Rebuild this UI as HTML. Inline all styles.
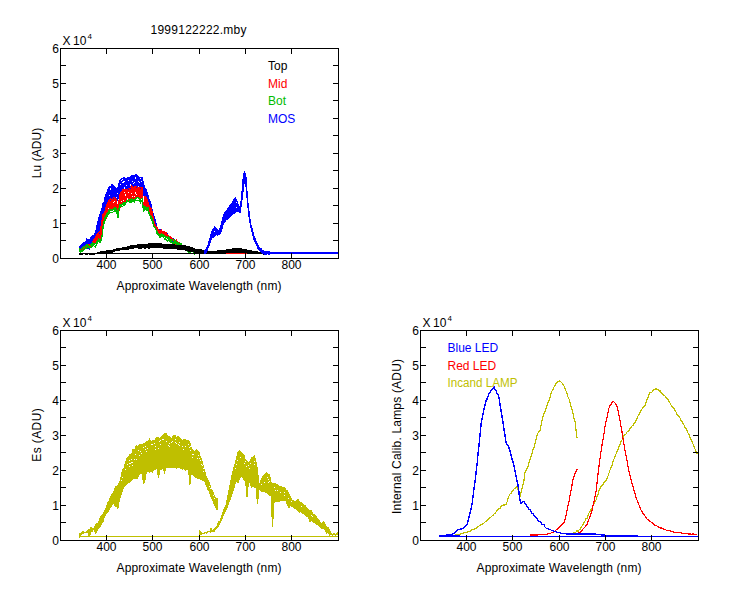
<!DOCTYPE html>
<html><head><meta charset="utf-8"><style>
html,body{margin:0;padding:0;background:#fff;width:750px;height:600px;overflow:hidden}
svg{display:block}
text{font-family:"Liberation Sans", sans-serif;font-size:12px;fill:#000}
</style></head><body>
<svg width="750" height="600" viewBox="0 0 750 600">
<rect width="750" height="600" fill="#fff"/>
<polyline points="79.0,246.3 80.5,245.8 82.0,244.4 83.5,245.0 85.0,243.3 86.5,239.9 88.0,239.8 89.5,240.0 91.0,240.3 92.5,235.8 94.0,235.8 95.5,232.5 97.0,225.4 98.5,218.2 100.0,213.8 101.5,210.3 103.0,203.1 104.5,201.9 106.0,195.3 107.5,190.5 109.0,187.4 110.5,186.3 112.0,186.7 113.5,185.8 115.0,188.8 116.5,188.9 118.0,188.0 119.5,180.9 121.0,178.7 122.5,178.9 124.0,177.2 125.5,179.1 127.0,182.3 128.5,177.2 130.0,178.0 131.5,176.0 133.0,176.4 134.5,176.1 136.0,174.5 137.5,176.7 139.0,177.4 140.5,177.1 142.0,177.5 143.5,182.9 145.0,188.0 146.5,190.1 148.0,195.5 149.5,201.7 151.0,204.5 152.5,212.0 154.0,216.3 155.5,221.3 157.0,226.6 158.5,229.7 160.0,230.6 161.5,230.9 163.0,232.7 164.5,232.0 166.0,236.0 167.5,233.8 169.0,238.4 170.5,238.1 172.0,239.1 173.5,241.1 175.0,242.7 176.5,242.3 178.0,244.1 179.5,245.5 181.0,243.8 182.5,247.3 184.0,247.7" fill="none" stroke="#0000FF" stroke-width="1.0" shape-rendering="crispEdges"/>
<polyline points="79.0,247.0 80.5,245.8 82.0,244.1 83.5,242.3 85.0,244.8 86.5,240.6 88.0,242.5 89.5,240.9 91.0,237.0 92.5,236.3 94.0,235.8 95.5,232.5 97.0,225.7 98.5,219.1 100.0,213.8 101.5,210.0 103.0,207.4 104.5,199.4 106.0,193.6 107.5,192.0 109.0,189.8 110.5,186.3 112.0,185.4 113.5,185.6 115.0,187.2 116.5,191.5 118.0,188.2 119.5,182.4 121.0,178.8 122.5,181.1 124.0,177.6 125.5,179.4 127.0,177.8 128.5,177.2 130.0,181.8 131.5,175.5 133.0,176.9 134.5,177.2 136.0,175.0 137.5,175.3 139.0,178.4 140.5,177.9 142.0,178.2 143.5,183.6 145.0,191.3 146.5,191.5 148.0,197.3 149.5,199.5 151.0,203.7 152.5,214.0 154.0,218.9 155.5,221.6 157.0,228.3 158.5,231.7 160.0,231.6 161.5,233.2 163.0,230.7 164.5,235.4 166.0,234.1 167.5,236.0 169.0,238.0 170.5,239.6 172.0,241.4 173.5,241.1 175.0,240.5 176.5,241.9 178.0,246.1 179.5,245.3 181.0,244.3 182.5,247.3 184.0,247.7" fill="none" stroke="#0000FF" stroke-width="1.0" shape-rendering="crispEdges"/>
<polyline points="79.0,246.3 80.5,247.4 82.0,245.4 83.5,243.2 85.0,243.0 86.5,239.9 88.0,239.8 89.5,241.1 91.0,237.0 92.5,235.8 94.0,238.2 95.5,232.9 97.0,228.0 98.5,218.9 100.0,215.5 101.5,210.7 103.0,203.7 104.5,201.8 106.0,194.4 107.5,192.9 109.0,188.8 110.5,192.4 112.0,184.3 113.5,189.2 115.0,189.2 116.5,191.0 118.0,186.9 119.5,182.4 121.0,182.5 122.5,181.0 124.0,179.6 125.5,179.9 127.0,181.9 128.5,179.3 130.0,178.0 131.5,176.1 133.0,175.0 134.5,175.9 136.0,175.7 137.5,179.5 139.0,178.2 140.5,177.1 142.0,177.6 143.5,186.4 145.0,190.2 146.5,191.0 148.0,197.1 149.5,201.0 151.0,206.4 152.5,213.7 154.0,218.0 155.5,221.1 157.0,228.5 158.5,229.7 160.0,232.3 161.5,230.9 163.0,231.3 164.5,232.8 166.0,234.1 167.5,236.8 169.0,239.2 170.5,237.4 172.0,241.1 173.5,240.2 175.0,240.5 176.5,243.0 178.0,244.6 179.5,246.1 181.0,243.8 182.5,245.5 184.0,248.0" fill="none" stroke="#0000FF" stroke-width="1.0" shape-rendering="crispEdges"/>
<polyline points="79.0,249.9 80.5,247.9 82.0,245.7 83.5,246.8 85.0,242.4 86.5,241.0 88.0,239.8 89.5,244.8 91.0,240.8 92.5,239.6 94.0,239.0 95.5,233.9 97.0,228.5 98.5,221.2 100.0,217.6 101.5,213.7 103.0,208.9 104.5,203.3 106.0,196.6 107.5,192.1 109.0,188.1 110.5,192.6 112.0,188.6 113.5,188.6 115.0,189.5 116.5,189.8 118.0,189.7 119.5,185.8 121.0,181.4 122.5,181.7 124.0,180.0 125.5,181.5 127.0,177.8 128.5,179.7 130.0,179.5 131.5,179.8 133.0,176.7 134.5,180.0 136.0,180.2 137.5,177.4 139.0,177.9 140.5,180.4 142.0,180.1 143.5,183.4 145.0,191.4 146.5,195.2 148.0,197.4 149.5,201.1 151.0,203.7 152.5,213.6 154.0,216.3 155.5,221.1 157.0,230.1 158.5,229.7 160.0,232.4 161.5,234.4 163.0,232.2 164.5,234.0 166.0,237.4 167.5,234.4 169.0,236.5 170.5,237.4 172.0,239.9 173.5,241.1 175.0,242.7 176.5,241.9 178.0,244.1 179.5,245.3 181.0,245.0 182.5,245.6 184.0,248.8" fill="none" stroke="#0000FF" stroke-width="1.0" shape-rendering="crispEdges"/>
<polyline points="79.0,248.6 80.5,247.1 82.0,246.0 83.5,244.8 85.0,243.6 86.5,243.1 88.0,245.6 89.5,243.5 91.0,239.7 92.5,235.8 94.0,239.0 95.5,231.4 97.0,226.3 98.5,224.3 100.0,220.4 101.5,214.4 103.0,203.9 104.5,202.4 106.0,196.3 107.5,195.2 109.0,194.2 110.5,191.1 112.0,187.2 113.5,187.3 115.0,190.9 116.5,192.3 118.0,188.5 119.5,185.3 121.0,181.0 122.5,185.0 124.0,183.1 125.5,184.1 127.0,180.6 128.5,181.9 130.0,181.6 131.5,178.4 133.0,178.4 134.5,177.4 136.0,175.7 137.5,180.3 139.0,179.5 140.5,181.2 142.0,182.8 143.5,182.8 145.0,189.9 146.5,192.5 148.0,199.1 149.5,201.3 151.0,207.7 152.5,213.9 154.0,216.3 155.5,221.3 157.0,229.5 158.5,231.6 160.0,229.5 161.5,234.4 163.0,232.9 164.5,235.5 166.0,234.6 167.5,234.3 169.0,236.5 170.5,239.9 172.0,239.6 173.5,241.1 175.0,240.5 176.5,243.0 178.0,244.1 179.5,245.4 181.0,245.8 182.5,245.3 184.0,249.7" fill="none" stroke="#0000FF" stroke-width="1.0" shape-rendering="crispEdges"/>
<polyline points="79.0,249.0 80.5,246.2 82.0,245.5 83.5,244.0 85.0,244.1 86.5,241.7 88.0,241.2 89.5,242.4 91.0,238.3 92.5,236.8 94.0,238.7 95.5,236.4 97.0,227.0 98.5,223.8 100.0,219.2 101.5,214.0 103.0,209.4 104.5,203.0 106.0,201.1 107.5,193.5 109.0,191.9 110.5,191.3 112.0,188.2 113.5,191.4 115.0,191.5 116.5,194.5 118.0,191.3 119.5,184.1 121.0,183.8 122.5,184.0 124.0,183.8 125.5,181.3 127.0,182.2 128.5,178.6 130.0,183.9 131.5,178.0 133.0,176.6 134.5,180.5 136.0,181.2 137.5,177.0 139.0,178.7 140.5,180.2 142.0,179.8 143.5,187.4 145.0,190.5 146.5,191.5 148.0,200.1 149.5,201.1 151.0,207.0 152.5,212.1 154.0,216.6 155.5,221.1 157.0,231.3 158.5,230.4 160.0,231.2 161.5,232.2 163.0,232.3 164.5,233.4 166.0,237.4 167.5,233.8 169.0,236.5 170.5,237.4 172.0,239.1 173.5,241.1 175.0,242.7 176.5,241.9 178.0,244.1 179.5,245.5 181.0,245.8 182.5,245.3 184.0,249.5" fill="none" stroke="#0000FF" stroke-width="1.0" shape-rendering="crispEdges"/>
<polyline points="79.0,246.8 80.5,250.3 82.0,244.9 83.5,244.7 85.0,241.9 86.5,241.4 88.0,245.7 89.5,245.0 91.0,240.0 92.5,238.1 94.0,235.9 95.5,234.7 97.0,230.5 98.5,224.7 100.0,221.4 101.5,214.9 103.0,208.6 104.5,204.6 106.0,201.5 107.5,199.1 109.0,191.9 110.5,191.3 112.0,190.4 113.5,190.1 115.0,191.3 116.5,194.1 118.0,190.4 119.5,188.1 121.0,184.8 122.5,185.3 124.0,182.7 125.5,182.5 127.0,181.3 128.5,182.1 130.0,182.6 131.5,181.2 133.0,180.8 134.5,179.0 136.0,180.1 137.5,178.2 139.0,180.4 140.5,181.8 142.0,178.9 143.5,187.7 145.0,192.9 146.5,193.2 148.0,198.8 149.5,202.3 151.0,204.9 152.5,213.8 154.0,218.2 155.5,223.8 157.0,226.6 158.5,231.5 160.0,231.2 161.5,232.1 163.0,231.4 164.5,234.5 166.0,234.1 167.5,236.0 169.0,238.1 170.5,239.0 172.0,240.8 173.5,238.8 175.0,241.0 176.5,244.0 178.0,245.8 179.5,246.6 181.0,243.8 182.5,247.2 184.0,249.7" fill="none" stroke="#0000FF" stroke-width="1.0" shape-rendering="crispEdges"/>
<polyline points="79.0,250.9 80.5,249.2 82.0,244.4 83.5,247.3 85.0,244.8 86.5,239.9 88.0,244.4 89.5,241.3 91.0,238.9 92.5,239.0 94.0,242.1 95.5,235.4 97.0,231.8 98.5,229.0 100.0,225.6 101.5,217.8 103.0,209.1 104.5,203.3 106.0,198.8 107.5,197.4 109.0,193.9 110.5,193.8 112.0,193.2 113.5,190.7 115.0,193.3 116.5,196.3 118.0,194.1 119.5,189.9 121.0,186.6 122.5,185.2 124.0,184.5 125.5,182.8 127.0,180.9 128.5,184.4 130.0,184.3 131.5,182.2 133.0,178.6 134.5,181.7 136.0,179.8 137.5,180.0 139.0,178.3 140.5,182.5 142.0,185.1 143.5,189.0 145.0,192.3 146.5,194.1 148.0,201.6 149.5,199.5 151.0,206.8 152.5,215.7 154.0,220.8 155.5,227.1 157.0,230.9 158.5,231.8 160.0,231.7 161.5,234.0 163.0,231.4 164.5,233.6 166.0,237.3 167.5,236.8 169.0,237.5 170.5,238.5 172.0,240.6 173.5,241.1 175.0,241.5 176.5,244.0 178.0,244.1 179.5,245.9 181.0,244.4 182.5,247.3 184.0,249.7" fill="none" stroke="#0000FF" stroke-width="1.0" shape-rendering="crispEdges"/>
<polyline points="79.0,246.7 80.5,247.4 82.0,248.2 83.5,244.8 85.0,242.8 86.5,245.9 88.0,245.0 89.5,245.4 91.0,240.9 92.5,242.6 94.0,239.8 95.5,238.6 97.0,230.5 98.5,225.4 100.0,224.3 101.5,217.8 103.0,211.6 104.5,206.8 106.0,199.3 107.5,197.7 109.0,193.5 110.5,196.2 112.0,191.2 113.5,192.2 115.0,196.4 116.5,199.8 118.0,197.4 119.5,189.0 121.0,187.2 122.5,189.5 124.0,184.5 125.5,183.7 127.0,184.9 128.5,185.0 130.0,183.7 131.5,179.6 133.0,180.0 134.5,184.4 136.0,180.4 137.5,182.1 139.0,183.6 140.5,185.1 142.0,183.8 143.5,190.0 145.0,192.4 146.5,194.1 148.0,199.0 149.5,206.1 151.0,207.4 152.5,213.8 154.0,219.3 155.5,224.0 157.0,230.3 158.5,229.7 160.0,229.5 161.5,232.0 163.0,234.2 164.5,235.5 166.0,235.7 167.5,236.7 169.0,239.2 170.5,238.3 172.0,239.6 173.5,241.1 175.0,242.5 176.5,244.0 178.0,244.2 179.5,247.3 181.0,245.8 182.5,247.3 184.0,249.7" fill="none" stroke="#0000FF" stroke-width="1.0" shape-rendering="crispEdges"/>
<polyline points="79.0,246.3 80.5,250.6 82.0,247.6 83.5,247.2 85.0,247.2 86.5,243.9 88.0,241.6 89.5,245.7 91.0,241.0 92.5,240.7 94.0,239.7 95.5,236.6 97.0,228.8 98.5,230.1 100.0,225.6 101.5,222.2 103.0,214.8 104.5,207.2 106.0,198.5 107.5,196.8 109.0,192.9 110.5,194.6 112.0,193.5 113.5,190.3 115.0,195.6 116.5,193.8 118.0,195.2 119.5,189.6 121.0,187.2 122.5,187.5 124.0,184.6 125.5,185.2 127.0,182.4 128.5,184.9 130.0,189.4 131.5,187.0 133.0,185.8 134.5,185.3 136.0,181.3 137.5,185.9 139.0,183.9 140.5,184.6 142.0,184.7 143.5,190.0 145.0,193.9 146.5,195.2 148.0,199.4 149.5,203.9 151.0,210.7 152.5,215.4 154.0,219.9 155.5,225.7 157.0,230.6 158.5,229.7 160.0,231.1 161.5,234.4 163.0,233.2 164.5,234.2 166.0,237.4 167.5,234.3 169.0,238.2 170.5,237.8 172.0,241.4 173.5,238.8 175.0,240.5 176.5,242.1 178.0,246.1 179.5,247.3 181.0,245.8 182.5,245.3 184.0,249.7" fill="none" stroke="#0000FF" stroke-width="1.0" shape-rendering="crispEdges"/>
<polyline points="79.0,249.6 80.5,248.6 82.0,249.3 83.5,245.2 85.0,242.6 86.5,244.3 88.0,242.4 89.5,244.4 91.0,243.5 92.5,242.4 94.0,244.1 95.5,237.5 97.0,231.0 98.5,227.6 100.0,224.7 101.5,219.1 103.0,212.9 104.5,206.8 106.0,199.1 107.5,200.6 109.0,195.9 110.5,197.1 112.0,194.5 113.5,195.9 115.0,195.9 116.5,199.6 118.0,196.2 119.5,191.5 121.0,189.5 122.5,185.9 124.0,186.2 125.5,186.7 127.0,186.6 128.5,183.3 130.0,189.8 131.5,184.4 133.0,182.2 134.5,181.8 136.0,182.9 137.5,184.0 139.0,183.6 140.5,185.7 142.0,184.9 143.5,191.7 145.0,194.1 146.5,195.9 148.0,203.8 149.5,208.1 151.0,206.4 152.5,215.1 154.0,219.3 155.5,226.5 157.0,227.5 158.5,230.8 160.0,231.6 161.5,231.3 163.0,231.1 164.5,233.3 166.0,234.1 167.5,233.8 169.0,237.4 170.5,239.1 172.0,240.1 173.5,238.8 175.0,240.9 176.5,244.0 178.0,246.1 179.5,246.3 181.0,243.8 182.5,247.3 184.0,247.8" fill="none" stroke="#0000FF" stroke-width="1.0" shape-rendering="crispEdges"/>
<polyline points="79.0,248.3 80.5,248.7 82.0,250.7 83.5,247.6 85.0,248.9 86.5,244.6 88.0,247.3 89.5,245.0 91.0,243.1 92.5,245.1 94.0,243.1 95.5,237.6 97.0,234.5 98.5,230.6 100.0,229.7 101.5,221.5 103.0,209.9 104.5,208.3 106.0,203.5 107.5,200.4 109.0,199.5 110.5,198.0 112.0,196.7 113.5,193.7 115.0,198.2 116.5,201.8 118.0,197.7 119.5,192.2 121.0,190.0 122.5,192.7 124.0,185.7 125.5,187.8 127.0,187.9 128.5,187.9 130.0,186.9 131.5,185.7 133.0,184.7 134.5,185.9 136.0,184.0 137.5,183.0 139.0,185.7 140.5,187.9 142.0,185.2 143.5,191.0 145.0,197.3 146.5,194.7 148.0,202.9 149.5,203.7 151.0,210.7 152.5,218.5 154.0,223.3 155.5,225.0 157.0,231.2 158.5,232.1 160.0,232.0 161.5,234.4 163.0,230.7 164.5,235.5 166.0,236.2 167.5,236.8 169.0,238.6 170.5,237.8 172.0,241.1 173.5,241.1 175.0,241.9 176.5,244.0 178.0,244.4 179.5,245.3 181.0,245.8 182.5,247.3 184.0,249.2" fill="none" stroke="#0000FF" stroke-width="1.0" shape-rendering="crispEdges"/>
<polyline points="79.0,250.9 80.5,252.0 82.0,248.3 83.5,246.4 85.0,246.9 86.5,247.8 88.0,243.6 89.5,248.6 91.0,242.8 92.5,241.0 94.0,244.2 95.5,238.9 97.0,233.1 98.5,230.4 100.0,230.4 101.5,225.6 103.0,213.1 104.5,210.3 106.0,205.6 107.5,199.9 109.0,198.7 110.5,198.4 112.0,195.2 113.5,195.7 115.0,197.6 116.5,199.0 118.0,196.0 119.5,191.9 121.0,192.7 122.5,190.7 124.0,189.8 125.5,191.0 127.0,188.9 128.5,190.3 130.0,187.1 131.5,187.4 133.0,185.5 134.5,189.6 136.0,188.2 137.5,182.4 139.0,184.8 140.5,188.3 142.0,189.2 143.5,193.6 145.0,196.7 146.5,198.1 148.0,204.4 149.5,205.9 151.0,210.7 152.5,212.7 154.0,222.7 155.5,223.9 157.0,231.3 158.5,231.6 160.0,230.3 161.5,234.0 163.0,231.5 164.5,232.8 166.0,234.1 167.5,235.9 169.0,239.2 170.5,239.9 172.0,240.4 173.5,241.1 175.0,242.0 176.5,243.1 178.0,246.1 179.5,247.3 181.0,244.5 182.5,246.2 184.0,248.7" fill="none" stroke="#0000FF" stroke-width="1.0" shape-rendering="crispEdges"/>
<polyline points="79.0,251.2 80.5,249.2 82.0,250.7 83.5,247.3 85.0,248.5 86.5,244.9 88.0,247.2 89.5,247.8 91.0,243.7 92.5,245.1 94.0,243.4 95.5,241.4 97.0,238.0 98.5,230.9 100.0,229.3 101.5,225.3 103.0,214.8 104.5,210.5 106.0,204.6 107.5,198.7 109.0,198.7 110.5,195.4 112.0,197.8 113.5,196.1 115.0,197.0 116.5,199.3 118.0,198.4 119.5,191.0 121.0,188.5 122.5,189.4 124.0,185.4 125.5,187.9 127.0,190.7 128.5,186.3 130.0,190.6 131.5,184.4 133.0,187.5 134.5,186.8 136.0,185.9 137.5,187.8 139.0,189.6 140.5,188.2 142.0,188.8 143.5,191.3 145.0,198.5 146.5,197.5 148.0,205.3 149.5,206.5 151.0,210.7 152.5,213.6 154.0,221.4 155.5,227.3 157.0,229.7 158.5,230.7 160.0,231.6 161.5,231.1 163.0,233.6 164.5,235.5 166.0,237.4 167.5,234.1 169.0,236.9 170.5,238.4 172.0,241.4 173.5,238.9 175.0,240.8 176.5,244.0 178.0,246.1 179.5,246.0 181.0,243.8 182.5,245.3 184.0,247.8" fill="none" stroke="#0000FF" stroke-width="1.0" shape-rendering="crispEdges"/>
<polyline points="79.0,247.4 80.5,252.0 82.0,248.7 83.5,249.3 85.0,249.0 86.5,247.8 88.0,245.0 89.5,248.6 91.0,246.0 92.5,242.7 94.0,241.5 95.5,240.1 97.0,234.2 98.5,234.7 100.0,226.8 101.5,223.6 103.0,215.1 104.5,210.8 106.0,206.3 107.5,203.3 109.0,199.7 110.5,201.8 112.0,194.2 113.5,198.3 115.0,197.8 116.5,200.8 118.0,199.1 119.5,192.9 121.0,191.4 122.5,193.6 124.0,190.6 125.5,189.3 127.0,190.7 128.5,190.3 130.0,187.6 131.5,188.3 133.0,189.3 134.5,189.6 136.0,187.2 137.5,187.3 139.0,187.3 140.5,188.3 142.0,188.4 143.5,195.1 145.0,197.5 146.5,197.8 148.0,202.2 149.5,207.0 151.0,208.2 152.5,217.3 154.0,223.3 155.5,227.1 157.0,231.3 158.5,232.9 160.0,232.4 161.5,233.5 163.0,233.0 164.5,235.5 166.0,234.8 167.5,236.8 169.0,238.7 170.5,237.9 172.0,240.0 173.5,239.3 175.0,242.4 176.5,242.2 178.0,246.1 179.5,245.3 181.0,243.8 182.5,245.4 184.0,247.7" fill="none" stroke="#0000FF" stroke-width="1.0" shape-rendering="crispEdges"/>
<polyline points="79.0,251.7 80.5,252.0 82.0,250.7 83.5,246.5 85.0,247.2 86.5,247.8 88.0,248.1 89.5,248.1 91.0,246.0 92.5,245.1 94.0,244.2 95.5,241.1 97.0,238.4 98.5,234.7 100.0,231.3 101.5,224.8 103.0,216.5 104.5,210.3 106.0,206.7 107.5,203.9 109.0,201.5 110.5,199.8 112.0,198.8 113.5,198.9 115.0,200.4 116.5,201.8 118.0,198.6 119.5,194.0 121.0,190.6 122.5,191.4 124.0,191.4 125.5,191.4 127.0,188.4 128.5,189.1 130.0,191.1 131.5,189.1 133.0,187.7 134.5,188.6 136.0,184.4 137.5,186.4 139.0,189.6 140.5,185.5 142.0,189.7 143.5,195.0 145.0,198.2 146.5,197.7 148.0,204.9 149.5,207.6 151.0,210.1 152.5,214.6 154.0,222.5 155.5,225.3 157.0,229.8 158.5,232.9 160.0,232.9 161.5,234.4 163.0,232.8 164.5,235.5 166.0,237.4 167.5,236.8 169.0,239.2 170.5,239.1 172.0,240.6 173.5,241.1 175.0,240.5 176.5,243.9 178.0,244.6 179.5,246.1 181.0,243.8 182.5,245.3 184.0,249.2" fill="none" stroke="#0000FF" stroke-width="1.0" shape-rendering="crispEdges"/>
<polyline points="79.0,251.3 80.5,250.4 82.0,247.9 83.5,247.1 85.0,245.8 86.5,248.1 88.0,244.8 89.5,246.9 91.0,246.3 92.5,245.3 94.0,241.2 95.5,237.6 97.0,234.2 98.5,232.1 100.0,231.8 101.5,223.7 103.0,214.3 104.5,213.2 106.0,207.4 107.5,203.0 109.0,199.8 110.5,199.5 112.0,199.6 113.5,197.4 115.0,199.8 116.5,200.1 118.0,210.0 119.5,194.7 121.0,193.0 122.5,189.9 124.0,189.8 125.5,189.6 127.0,189.1 128.5,191.4 130.0,188.0 131.5,186.9 133.0,187.6 134.5,188.7 136.0,188.8 137.5,187.5 139.0,187.7 140.5,187.2 142.0,188.4 143.5,208.0 145.0,196.0 146.5,199.5 148.0,203.0 149.5,206.1 151.0,210.2 152.5,212.5 154.0,221.6 155.5,226.0 157.0,228.8 158.5,230.6 160.0,231.5 161.5,230.1 163.0,232.0 164.5,232.0 166.0,232.2 167.5,234.7 169.0,236.7 170.5,236.8 172.0,238.6 173.5,239.2 175.0,242.8 176.5,241.3 178.0,244.5 179.5,244.7 181.0,244.0 182.5,245.7 184.0,248.1 185.5,248.4 187.0,248.4 188.5,249.3 190.0,248.8 191.5,250.3 193.0,251.0 194.5,252.8 196.0,252.3 197.5,253.2" fill="none" stroke="#FF0000" stroke-width="1.0" shape-rendering="crispEdges"/>
<polyline points="79.0,250.0 80.5,250.9 82.0,249.2 83.5,247.1 85.0,247.1 86.5,247.4 88.0,244.8 89.5,245.0 91.0,246.2 92.5,242.7 94.0,239.4 95.5,237.6 97.0,235.8 98.5,234.5 100.0,231.1 101.5,228.4 103.0,213.9 104.5,212.9 106.0,210.1 107.5,204.6 109.0,201.1 110.5,198.8 112.0,200.0 113.5,197.3 115.0,198.3 116.5,204.8 118.0,210.2 119.5,198.4 121.0,191.8 122.5,192.3 124.0,193.1 125.5,192.9 127.0,189.6 128.5,188.9 130.0,188.2 131.5,186.1 133.0,187.6 134.5,187.7 136.0,185.9 137.5,187.9 139.0,188.5 140.5,190.9 142.0,189.6 143.5,208.2 145.0,197.2 146.5,197.4 148.0,202.3 149.5,208.2 151.0,207.9 152.5,213.0 154.0,221.3 155.5,225.9 157.0,229.9 158.5,229.6 160.0,231.5 161.5,230.1 163.0,232.0 164.5,231.4 166.0,234.8 167.5,238.4 169.0,237.9 170.5,236.8 172.0,240.1 173.5,239.3 175.0,244.4 176.5,241.5 178.0,244.3 179.5,244.4 181.0,244.0 182.5,245.7 184.0,246.9 185.5,248.2 187.0,248.3 188.5,248.4 190.0,248.7 191.5,250.9 193.0,251.7 194.5,252.3 196.0,252.1 197.5,253.2" fill="none" stroke="#FF0000" stroke-width="1.0" shape-rendering="crispEdges"/>
<polyline points="79.0,251.3 80.5,251.0 82.0,249.4 83.5,247.2 85.0,247.6 86.5,246.1 88.0,246.9 89.5,244.8 91.0,245.1 92.5,245.3 94.0,242.3 95.5,237.2 97.0,235.4 98.5,232.6 100.0,232.8 101.5,224.0 103.0,214.8 104.5,212.8 106.0,209.4 107.5,205.6 109.0,201.7 110.5,203.6 112.0,198.9 113.5,199.3 115.0,198.3 116.5,200.1 118.0,210.5 119.5,195.6 121.0,194.6 122.5,191.2 124.0,190.5 125.5,191.1 127.0,189.6 128.5,190.2 130.0,190.1 131.5,188.9 133.0,188.8 134.5,187.1 136.0,188.2 137.5,188.7 139.0,190.7 140.5,192.5 142.0,189.6 143.5,208.5 145.0,196.0 146.5,197.7 148.0,201.9 149.5,206.1 151.0,208.8 152.5,213.2 154.0,223.3 155.5,225.3 157.0,227.7 158.5,229.6 160.0,233.5 161.5,231.6 163.0,235.2 164.5,233.4 166.0,235.0 167.5,235.2 169.0,238.4 170.5,239.2 172.0,238.6 173.5,241.3 175.0,244.7 176.5,241.7 178.0,245.0 179.5,244.7 181.0,244.0 182.5,246.8 184.0,246.9 185.5,248.2 187.0,248.3 188.5,248.4 190.0,249.4 191.5,251.2 193.0,251.0 194.5,252.8 196.0,252.3 197.5,253.3" fill="none" stroke="#FF0000" stroke-width="1.0" shape-rendering="crispEdges"/>
<polyline points="79.0,250.1 80.5,250.1 82.0,249.2 83.5,248.2 85.0,245.8 86.5,247.8 88.0,246.9 89.5,244.8 91.0,247.1 92.5,244.0 94.0,240.2 95.5,240.4 97.0,234.0 98.5,233.6 100.0,235.2 101.5,226.5 103.0,215.8 104.5,212.9 106.0,209.1 107.5,206.8 109.0,201.0 110.5,202.4 112.0,198.9 113.5,200.5 115.0,200.5 116.5,200.1 118.0,210.7 119.5,196.1 121.0,194.1 122.5,194.1 124.0,191.1 125.5,190.9 127.0,193.0 128.5,191.7 130.0,191.9 131.5,189.2 133.0,189.1 134.5,189.0 136.0,190.2 137.5,190.8 139.0,190.0 140.5,189.8 142.0,188.9 143.5,208.7 145.0,199.4 146.5,199.3 148.0,202.0 149.5,207.1 151.0,210.7 152.5,215.0 154.0,222.5 155.5,225.1 157.0,228.2 158.5,229.6 160.0,230.5 161.5,232.2 163.0,232.5 164.5,233.1 166.0,234.9 167.5,236.5 169.0,237.6 170.5,239.2 172.0,240.2 173.5,239.4 175.0,244.4 176.5,241.8 178.0,243.4 179.5,243.8 181.0,244.4 182.5,245.7 184.0,247.2 185.5,248.3 187.0,248.3 188.5,248.1 190.0,248.8 191.5,250.7 193.0,251.6 194.5,252.3 196.0,252.3 197.5,253.2" fill="none" stroke="#FF0000" stroke-width="1.0" shape-rendering="crispEdges"/>
<polyline points="79.0,250.3 80.5,251.0 82.0,247.9 83.5,247.1 85.0,247.6 86.5,246.3 88.0,245.1 89.5,245.9 91.0,247.3 92.5,242.7 94.0,239.5 95.5,237.5 97.0,234.5 98.5,232.7 100.0,232.6 101.5,228.0 103.0,215.8 104.5,213.4 106.0,210.9 107.5,204.4 109.0,203.0 110.5,204.0 112.0,201.6 113.5,199.5 115.0,201.2 116.5,201.6 118.0,210.9 119.5,199.5 121.0,194.4 122.5,192.6 124.0,194.9 125.5,192.4 127.0,192.0 128.5,191.0 130.0,189.5 131.5,188.8 133.0,193.9 134.5,189.3 136.0,188.6 137.5,189.5 139.0,190.5 140.5,191.2 142.0,189.9 143.5,208.9 145.0,197.6 146.5,201.7 148.0,204.3 149.5,208.9 151.0,208.3 152.5,214.3 154.0,222.8 155.5,225.8 157.0,227.1 158.5,232.0 160.0,231.3 161.5,230.8 163.0,233.0 164.5,232.5 166.0,234.0 167.5,234.7 169.0,236.7 170.5,238.0 172.0,239.6 173.5,239.5 175.0,242.8 176.5,240.6 178.0,244.0 179.5,244.7 181.0,244.0 182.5,247.1 184.0,248.1 185.5,248.2 187.0,249.3 188.5,248.1 190.0,248.7 191.5,250.3 193.0,251.0 194.5,252.3 196.0,252.1 197.5,253.3" fill="none" stroke="#FF0000" stroke-width="1.0" shape-rendering="crispEdges"/>
<polyline points="79.0,250.0 80.5,250.9 82.0,247.9 83.5,247.1 85.0,246.0 86.5,246.1 88.0,244.8 89.5,244.8 91.0,246.0 92.5,244.4 94.0,241.5 95.5,237.8 97.0,235.3 98.5,233.1 100.0,234.9 101.5,225.8 103.0,219.3 104.5,213.2 106.0,209.9 107.5,206.5 109.0,204.8 110.5,202.9 112.0,203.3 113.5,201.2 115.0,203.5 116.5,205.0 118.0,211.2 119.5,201.0 121.0,196.6 122.5,193.8 124.0,193.0 125.5,193.5 127.0,193.5 128.5,191.3 130.0,192.2 131.5,190.7 133.0,192.2 134.5,187.7 136.0,189.9 137.5,191.8 139.0,190.4 140.5,191.2 142.0,187.2 143.5,209.2 145.0,197.1 146.5,201.4 148.0,201.9 149.5,209.5 151.0,210.3 152.5,215.9 154.0,222.0 155.5,225.5 157.0,231.0 158.5,230.0 160.0,231.1 161.5,231.2 163.0,232.2 164.5,234.6 166.0,235.9 167.5,235.1 169.0,236.7 170.5,239.2 172.0,240.8 173.5,241.1 175.0,244.7 176.5,240.6 178.0,243.9 179.5,243.1 181.0,244.0 182.5,247.1 184.0,246.9 185.5,249.3 187.0,248.9 188.5,248.1 190.0,249.8 191.5,251.2 193.0,251.7 194.5,252.3 196.0,252.3 197.5,253.3" fill="none" stroke="#FF0000" stroke-width="1.0" shape-rendering="crispEdges"/>
<polyline points="79.0,250.0 80.5,249.6 82.0,249.4 83.5,248.0 85.0,245.8 86.5,246.5 88.0,244.8 89.5,246.1 91.0,246.2 92.5,245.3 94.0,241.8 95.5,237.4 97.0,237.2 98.5,235.9 100.0,235.4 101.5,230.6 103.0,217.6 104.5,213.1 106.0,212.8 107.5,205.3 109.0,201.3 110.5,204.5 112.0,201.6 113.5,201.4 115.0,200.7 116.5,202.2 118.0,211.4 119.5,199.4 121.0,197.7 122.5,191.5 124.0,196.0 125.5,193.1 127.0,191.8 128.5,194.6 130.0,192.0 131.5,189.0 133.0,195.0 134.5,190.2 136.0,191.1 137.5,191.9 139.0,193.9 140.5,191.1 142.0,192.2 143.5,209.4 145.0,200.0 146.5,199.8 148.0,204.2 149.5,211.4 151.0,211.5 152.5,215.4 154.0,226.4 155.5,226.9 157.0,227.6 158.5,232.2 160.0,230.7 161.5,233.3 163.0,235.4 164.5,232.5 166.0,233.1 167.5,236.4 169.0,237.9 170.5,236.8 172.0,240.3 173.5,239.2 175.0,243.1 176.5,240.8 178.0,243.8 179.5,244.2 181.0,244.0 182.5,247.1 184.0,247.2 185.5,248.2 187.0,248.3 188.5,248.1 190.0,249.7 191.5,250.3 193.0,251.5 194.5,252.8 196.0,252.3 197.5,253.3" fill="none" stroke="#FF0000" stroke-width="1.0" shape-rendering="crispEdges"/>
<polyline points="79.0,250.3 80.5,249.6 82.0,249.4 83.5,248.2 85.0,247.6 86.5,247.0 88.0,246.9 89.5,246.9 91.0,247.1 92.5,244.5 94.0,241.6 95.5,240.0 97.0,237.3 98.5,236.5 100.0,234.7 101.5,232.4 103.0,218.9 104.5,216.2 106.0,212.0 107.5,207.1 109.0,207.4 110.5,203.4 112.0,201.6 113.5,201.6 115.0,202.7 116.5,207.3 118.0,211.6 119.5,201.9 121.0,196.7 122.5,195.7 124.0,196.6 125.5,197.7 127.0,193.1 128.5,195.3 130.0,193.2 131.5,190.4 133.0,193.3 134.5,191.7 136.0,188.4 137.5,193.1 139.0,193.4 140.5,191.8 142.0,189.7 143.5,209.6 145.0,199.4 146.5,202.6 148.0,206.9 149.5,208.7 151.0,212.6 152.5,215.3 154.0,223.6 155.5,226.4 157.0,228.8 158.5,232.9 160.0,232.6 161.5,231.8 163.0,233.6 164.5,233.9 166.0,232.9 167.5,235.6 169.0,237.9 170.5,237.1 172.0,239.4 173.5,239.3 175.0,244.7 176.5,242.4 178.0,244.8 179.5,243.8 181.0,245.5 182.5,246.8 184.0,247.3 185.5,249.1 187.0,249.2 188.5,249.3 190.0,249.3 191.5,251.2 193.0,251.0 194.5,252.8 196.0,252.1 197.5,253.3" fill="none" stroke="#FF0000" stroke-width="1.0" shape-rendering="crispEdges"/>
<polyline points="79.0,250.2 80.5,250.2 82.0,249.4 83.5,248.7 85.0,245.8 86.5,246.6 88.0,244.8 89.5,246.1 91.0,246.1 92.5,243.5 94.0,240.4 95.5,239.4 97.0,236.4 98.5,236.3 100.0,237.9 101.5,228.5 103.0,219.5 104.5,214.9 106.0,213.4 107.5,206.9 109.0,205.3 110.5,203.1 112.0,204.8 113.5,203.3 115.0,203.5 116.5,205.5 118.0,211.9 119.5,199.4 121.0,199.7 122.5,196.5 124.0,196.3 125.5,197.4 127.0,196.3 128.5,193.8 130.0,192.5 131.5,194.5 133.0,195.9 134.5,191.8 136.0,190.6 137.5,192.2 139.0,192.8 140.5,191.0 142.0,192.1 143.5,209.9 145.0,198.1 146.5,202.9 148.0,204.6 149.5,209.7 151.0,212.8 152.5,217.1 154.0,223.6 155.5,226.7 157.0,227.9 158.5,233.9 160.0,233.4 161.5,230.8 163.0,234.2 164.5,234.7 166.0,234.9 167.5,238.4 169.0,239.7 170.5,237.2 172.0,239.5 173.5,239.2 175.0,244.1 176.5,241.7 178.0,245.1 179.5,244.0 181.0,244.0 182.5,245.7 184.0,247.6 185.5,248.2 187.0,248.3 188.5,248.2 190.0,249.7 191.5,250.5 193.0,251.0 194.5,252.8 196.0,252.1 197.5,253.2" fill="none" stroke="#FF0000" stroke-width="1.0" shape-rendering="crispEdges"/>
<polyline points="79.0,250.0 80.5,249.6 82.0,249.4 83.5,247.1 85.0,246.6 86.5,248.0 88.0,245.4 89.5,246.3 91.0,245.1 92.5,245.3 94.0,242.9 95.5,240.5 97.0,235.5 98.5,234.7 100.0,237.7 101.5,234.1 103.0,220.7 104.5,217.6 106.0,212.6 107.5,208.5 109.0,206.1 110.5,205.6 112.0,202.6 113.5,205.1 115.0,206.1 116.5,204.1 118.0,212.1 119.5,202.7 121.0,198.9 122.5,193.8 124.0,198.4 125.5,197.1 127.0,194.8 128.5,198.7 130.0,194.4 131.5,192.2 133.0,194.9 134.5,192.2 136.0,191.9 137.5,194.2 139.0,193.4 140.5,193.2 142.0,194.8 143.5,210.1 145.0,201.3 146.5,202.9 148.0,206.5 149.5,212.0 151.0,212.4 152.5,218.8 154.0,223.0 155.5,226.5 157.0,227.4 158.5,231.4 160.0,233.5 161.5,234.3 163.0,233.6 164.5,234.0 166.0,234.1 167.5,235.7 169.0,236.7 170.5,238.1 172.0,238.6 173.5,240.4 175.0,243.8 176.5,240.7 178.0,243.4 179.5,243.1 181.0,245.5 182.5,245.7 184.0,248.1 185.5,249.3 187.0,248.3 188.5,248.1 190.0,249.8 191.5,251.2 193.0,251.0 194.5,252.3 196.0,252.3 197.5,253.3" fill="none" stroke="#FF0000" stroke-width="1.0" shape-rendering="crispEdges"/>
<polyline points="79.0,251.3 80.5,249.6 82.0,249.4 83.5,247.1 85.0,247.6 86.5,246.2 88.0,244.8 89.5,245.9 91.0,246.2 92.5,245.3 94.0,241.2 95.5,240.5 97.0,238.9 98.5,238.6 100.0,236.9 101.5,234.0 103.0,221.7 104.5,216.1 106.0,214.1 107.5,209.5 109.0,205.5 110.5,207.3 112.0,203.5 113.5,206.1 115.0,206.2 116.5,206.1 118.0,212.4 119.5,202.7 121.0,201.2 122.5,198.7 124.0,198.5 125.5,198.9 127.0,195.4 128.5,197.0 130.0,192.9 131.5,194.9 133.0,195.7 134.5,193.7 136.0,195.1 137.5,195.3 139.0,191.1 140.5,194.5 142.0,191.4 143.5,210.4 145.0,204.0 146.5,202.1 148.0,206.4 149.5,210.2 151.0,213.3 152.5,217.6 154.0,226.2 155.5,225.6 157.0,231.0 158.5,230.9 160.0,233.4 161.5,234.2 163.0,235.6 164.5,233.0 166.0,233.8 167.5,236.2 169.0,238.3 170.5,239.2 172.0,238.6 173.5,240.9 175.0,244.6 176.5,242.3 178.0,245.0 179.5,244.7 181.0,245.4 182.5,247.1 184.0,248.1 185.5,249.3 187.0,248.3 188.5,249.3 190.0,249.0 191.5,250.4 193.0,251.0 194.5,252.3 196.0,252.1 197.5,253.2" fill="none" stroke="#FF0000" stroke-width="1.0" shape-rendering="crispEdges"/>
<polyline points="79.0,251.3 80.5,249.6 82.0,249.4 83.5,248.4 85.0,246.4 86.5,246.3 88.0,245.0 89.5,244.8 91.0,245.8 92.5,244.2 94.0,241.6 95.5,238.9 97.0,238.2 98.5,235.8 100.0,237.7 101.5,235.9 103.0,222.5 104.5,216.7 106.0,212.5 107.5,208.3 109.0,205.2 110.5,207.3 112.0,205.0 113.5,205.4 115.0,204.8 116.5,206.9 118.0,212.6 119.5,202.9 121.0,200.9 122.5,197.5 124.0,200.0 125.5,197.1 127.0,195.4 128.5,195.6 130.0,193.9 131.5,195.3 133.0,199.6 134.5,193.7 136.0,195.6 137.5,195.4 139.0,194.0 140.5,194.7 142.0,193.6 143.5,210.6 145.0,203.9 146.5,200.7 148.0,207.2 149.5,211.4 151.0,212.5 152.5,217.4 154.0,226.0 155.5,227.2 157.0,230.0 158.5,233.2 160.0,230.6 161.5,234.6 163.0,236.7 164.5,235.7 166.0,236.3 167.5,235.1 169.0,238.3 170.5,237.1 172.0,239.1 173.5,241.3 175.0,242.9 176.5,241.4 178.0,243.4 179.5,243.8 181.0,244.9 182.5,245.7 184.0,246.9 185.5,249.3 187.0,248.3 188.5,248.1 190.0,248.7 191.5,251.2 193.0,251.7 194.5,252.8 196.0,252.1 197.5,253.2" fill="none" stroke="#FF0000" stroke-width="1.0" shape-rendering="crispEdges"/>
<polyline points="79.0,251.3 80.5,249.6 82.0,249.4 83.5,248.7 85.0,246.9 86.5,248.1 88.0,246.9 89.5,247.0 91.0,245.2 92.5,245.3 94.0,241.5 95.5,240.0 97.0,239.0 98.5,237.2 100.0,236.8 101.5,232.3 103.0,221.1 104.5,219.5 106.0,217.8 107.5,211.6 109.0,209.6 110.5,206.3 112.0,206.5 113.5,206.4 115.0,204.8 116.5,206.0 118.0,212.8 119.5,204.1 121.0,200.8 122.5,199.8 124.0,199.3 125.5,200.5 127.0,197.6 128.5,197.7 130.0,196.6 131.5,195.2 133.0,196.1 134.5,195.3 136.0,196.0 137.5,196.6 139.0,197.8 140.5,193.6 142.0,194.0 143.5,210.8 145.0,202.1 146.5,203.1 148.0,206.4 149.5,212.4 151.0,214.0 152.5,216.1 154.0,226.8 155.5,228.3 157.0,228.9 158.5,233.6 160.0,232.4 161.5,234.5 163.0,234.8 164.5,233.6 166.0,234.7 167.5,236.1 169.0,238.9 170.5,238.5 172.0,240.0 173.5,239.7 175.0,242.8 176.5,241.8 178.0,243.4 179.5,244.3 181.0,245.5 182.5,246.8 184.0,247.0 185.5,248.5 187.0,248.6 188.5,248.1 190.0,248.7 191.5,250.3 193.0,251.7 194.5,252.4 196.0,252.3 197.5,253.2" fill="none" stroke="#FF0000" stroke-width="1.0" shape-rendering="crispEdges"/>
<polyline points="79.0,250.8 80.5,250.2 82.0,249.4 83.5,248.7 85.0,247.2 86.5,246.5 88.0,245.1 89.5,247.0 91.0,246.3 92.5,244.0 94.0,243.4 95.5,242.7 97.0,239.9 98.5,237.4 100.0,241.3 101.5,235.7 103.0,223.7 104.5,217.9 106.0,214.0 107.5,209.7 109.0,209.2 110.5,208.1 112.0,207.0 113.5,205.2 115.0,205.0 116.5,207.4 118.0,213.1 119.5,206.5 121.0,204.6 122.5,203.8 124.0,201.6 125.5,199.1 127.0,197.2 128.5,194.4 130.0,196.4 131.5,195.9 133.0,199.0 134.5,197.3 136.0,196.5 137.5,196.7 139.0,197.7 140.5,198.3 142.0,193.7 143.5,211.1 145.0,200.7 146.5,206.3 148.0,209.2 149.5,212.7 151.0,212.6 152.5,218.2 154.0,225.1 155.5,227.4 157.0,229.6 158.5,233.3 160.0,233.1 161.5,234.4 163.0,235.6 164.5,234.5 166.0,235.2 167.5,236.7 169.0,239.7 170.5,238.0 172.0,240.4 173.5,240.0 175.0,242.8 176.5,242.4 178.0,243.4 179.5,244.7 181.0,245.4 182.5,245.7 184.0,246.9 185.5,248.2 187.0,248.3 188.5,248.1 190.0,249.8 191.5,250.4 193.0,251.7 194.5,252.3 196.0,252.3 197.5,253.2" fill="none" stroke="#FF0000" stroke-width="1.0" shape-rendering="crispEdges"/>
<polyline points="79.0,250.7 80.5,251.0 82.0,248.9 83.5,247.5 85.0,245.8 86.5,247.6 88.0,246.6 89.5,246.0 91.0,245.7 92.5,245.2 94.0,243.4 95.5,241.2 97.0,240.0 98.5,238.9 100.0,235.8 101.5,236.2 103.0,222.7 104.5,220.5 106.0,216.1 107.5,211.1 109.0,209.0 110.5,208.5 112.0,207.2 113.5,207.4 115.0,205.7 116.5,208.1 118.0,213.3 119.5,208.7 121.0,204.8 122.5,201.3 124.0,202.8 125.5,202.0 127.0,201.2 128.5,201.0 130.0,197.7 131.5,197.2 133.0,198.7 134.5,197.7 136.0,196.7 137.5,196.1 139.0,194.8 140.5,196.2 142.0,193.0 143.5,211.3 145.0,203.1 146.5,202.5 148.0,208.8 149.5,213.3 151.0,214.7 152.5,220.0 154.0,227.0 155.5,225.9 157.0,231.0 158.5,233.4 160.0,234.3 161.5,234.6 163.0,234.6 164.5,234.3 166.0,234.5 167.5,236.4 169.0,238.7 170.5,236.8 172.0,238.7 173.5,241.3 175.0,244.0 176.5,242.3 178.0,243.4 179.5,243.1 181.0,244.2 182.5,246.6 184.0,246.9 185.5,249.3 187.0,248.7 188.5,248.8 190.0,249.3 191.5,251.2 193.0,251.0 194.5,252.8 196.0,252.3 197.5,253.2" fill="none" stroke="#FF0000" stroke-width="1.0" shape-rendering="crispEdges"/>
<polyline points="79.0,250.8 80.5,251.0 82.0,249.4 83.5,248.7 85.0,247.4 86.5,248.1 88.0,246.4 89.5,247.0 91.0,246.8 92.5,242.7 94.0,243.4 95.5,242.0 97.0,238.4 98.5,238.6 100.0,238.5 101.5,239.1 103.0,225.0 104.5,217.2 106.0,217.7 107.5,212.3 109.0,211.8 110.5,207.5 112.0,205.7 113.5,208.2 115.0,207.6 116.5,208.4 118.0,213.5 119.5,207.4 121.0,206.9 122.5,199.3 124.0,203.5 125.5,200.7 127.0,201.8 128.5,200.9 130.0,198.4 131.5,199.0 133.0,199.9 134.5,197.2 136.0,198.1 137.5,197.2 139.0,195.9 140.5,199.6 142.0,195.8 143.5,211.5 145.0,204.1 146.5,203.1 148.0,206.5 149.5,211.9 151.0,214.4 152.5,218.8 154.0,227.0 155.5,227.0 157.0,230.8 158.5,233.8 160.0,232.6 161.5,234.0 163.0,234.5 164.5,236.3 166.0,236.3 167.5,237.6 169.0,237.2 170.5,238.7 172.0,239.2 173.5,241.3 175.0,244.0 176.5,240.8 178.0,245.1 179.5,244.7 181.0,244.1 182.5,247.1 184.0,247.2 185.5,248.4 187.0,248.9 188.5,248.1 190.0,248.8 191.5,250.5 193.0,251.7 194.5,252.8 196.0,252.1 197.5,253.3" fill="none" stroke="#FF0000" stroke-width="1.0" shape-rendering="crispEdges"/>
<polyline points="79.0,250.7 80.5,251.0 82.0,249.4 83.5,248.6 85.0,247.6 86.5,247.8 88.0,244.8 89.5,247.0 91.0,246.4 92.5,244.3 94.0,239.4 95.5,242.9 97.0,241.2 98.5,240.2 100.0,241.3 101.5,239.1 103.0,224.9 104.5,220.8 106.0,216.7 107.5,213.0 109.0,211.8 110.5,210.1 112.0,207.6 113.5,209.3 115.0,208.5 116.5,208.5 118.0,213.8 119.5,207.1 121.0,203.5 122.5,201.1 124.0,204.1 125.5,200.2 127.0,200.8 128.5,201.8 130.0,200.2 131.5,196.8 133.0,199.6 134.5,199.0 136.0,198.9 137.5,197.7 139.0,197.4 140.5,199.6 142.0,198.0 143.5,211.8 145.0,203.4 146.5,206.2 148.0,208.8 149.5,213.8 151.0,213.9 152.5,219.2 154.0,226.0 155.5,226.3 157.0,230.6 158.5,233.3 160.0,233.7 161.5,234.4 163.0,234.1 164.5,235.5 166.0,236.5 167.5,238.1 169.0,239.7 170.5,237.0 172.0,238.6 173.5,241.0 175.0,244.7 176.5,242.4 178.0,245.1 179.5,243.1 181.0,245.5 182.5,245.7 184.0,246.9 185.5,249.3 187.0,249.2 188.5,249.3 190.0,249.8 191.5,251.2 193.0,251.6 194.5,252.8 196.0,252.1 197.5,253.2" fill="none" stroke="#FF0000" stroke-width="1.0" shape-rendering="crispEdges"/>
<polyline points="79.0,251.3 80.5,251.0 82.0,249.4 83.5,248.5 85.0,247.3 86.5,246.7 88.0,246.9 89.5,247.0 91.0,247.5 92.5,245.3 94.0,243.4 95.5,242.9 97.0,241.2 98.5,238.2 100.0,241.3 101.5,239.1 103.0,225.0 104.5,220.2 106.0,218.8 107.5,214.7 109.0,211.8 110.5,208.1 112.0,210.5 113.5,208.0 115.0,208.2 116.5,210.6 118.0,214.0 119.5,208.9 121.0,206.9 122.5,203.9 124.0,204.1 125.5,201.8 127.0,200.4 128.5,200.4 130.0,199.4 131.5,197.7 133.0,199.9 134.5,199.2 136.0,197.3 137.5,197.4 139.0,197.8 140.5,199.6 142.0,197.5 143.5,212.0 145.0,205.3 146.5,205.7 148.0,209.6 149.5,211.5 151.0,216.4 152.5,220.0 154.0,226.2 155.5,226.3 157.0,231.0 158.5,231.0 160.0,233.4 161.5,234.6 163.0,236.3 164.5,235.2 166.0,236.7 167.5,236.6 169.0,239.6 170.5,238.0 172.0,239.2 173.5,241.3 175.0,242.9 176.5,242.4 178.0,243.9 179.5,244.7 181.0,244.0 182.5,247.1 184.0,246.9 185.5,248.2 187.0,249.0 188.5,249.3 190.0,248.7 191.5,251.2 193.0,251.0 194.5,252.5 196.0,252.3 197.5,253.3" fill="none" stroke="#FF0000" stroke-width="1.0" shape-rendering="crispEdges"/>
<polyline points="79.0,248.9 80.5,252.0 82.0,248.4 83.5,247.1 85.0,246.0 86.5,244.8 88.0,244.9 89.5,246.6 91.0,244.5 92.5,242.9 94.0,243.4 95.5,243.5 97.0,241.2 98.5,239.3 100.0,242.9 101.5,239.1 103.0,226.0 104.5,218.3 106.0,214.9 107.5,212.6 109.0,210.5 110.5,209.3 112.0,210.4 113.5,208.5 115.0,207.4 116.5,208.2 118.0,214.0 119.5,204.9 121.0,204.7 122.5,204.6 124.0,202.2 125.5,203.0 127.0,200.4 128.5,199.5 130.0,199.3 131.5,199.0 133.0,199.1 134.5,200.2 136.0,197.9 137.5,197.8 139.0,197.7 140.5,199.5 142.0,198.1 143.5,208.0 145.0,206.1 146.5,207.5 148.0,207.4 149.5,213.9 151.0,216.3 152.5,219.3 154.0,225.7 155.5,228.5 157.0,231.2 158.5,234.1 160.0,235.6 161.5,233.6 163.0,234.7 164.5,235.9 166.0,236.6 167.5,237.6 169.0,238.4 170.5,239.1 172.0,240.6 173.5,241.3 175.0,239.7 176.5,242.0 178.0,242.9 179.5,243.1 181.0,245.8 182.5,246.7 184.0,246.8 185.5,246.1 187.0,249.4 188.5,249.8 190.0,249.7 191.5,249.0 193.0,250.0 194.5,251.6 196.0,250.8 197.5,250.3" fill="none" stroke="#00BC00" stroke-width="1.0" shape-rendering="crispEdges"/>
<polyline points="79.0,248.2 80.5,252.0 82.0,248.4 83.5,247.8 85.0,248.9 86.5,244.8 88.0,245.2 89.5,247.5 91.0,244.1 92.5,246.4 94.0,242.8 95.5,246.2 97.0,243.6 98.5,241.6 100.0,240.8 101.5,239.5 103.0,226.5 104.5,220.4 106.0,215.1 107.5,213.6 109.0,212.8 110.5,209.5 112.0,210.0 113.5,209.9 115.0,207.4 116.5,210.7 118.0,215.3 119.5,204.5 121.0,205.7 122.5,203.5 124.0,202.9 125.5,202.8 127.0,200.2 128.5,201.3 130.0,200.0 131.5,201.3 133.0,199.2 134.5,200.5 136.0,198.0 137.5,197.4 139.0,197.8 140.5,201.2 142.0,200.4 143.5,209.3 145.0,207.9 146.5,208.8 148.0,208.3 149.5,214.6 151.0,216.8 152.5,222.1 154.0,225.7 155.5,228.2 157.0,231.3 158.5,234.8 160.0,235.7 161.5,234.3 163.0,236.2 164.5,236.8 166.0,237.6 167.5,238.5 169.0,236.6 170.5,241.3 172.0,239.5 173.5,242.0 175.0,240.3 176.5,243.8 178.0,243.4 179.5,243.3 181.0,243.5 182.5,247.1 184.0,245.4 185.5,247.7 187.0,249.9 188.5,250.4 190.0,253.0 191.5,250.5 193.0,251.5 194.5,252.3 196.0,251.1 197.5,252.6" fill="none" stroke="#00BC00" stroke-width="1.0" shape-rendering="crispEdges"/>
<polyline points="79.0,250.8 80.5,250.8 82.0,251.7 83.5,249.7 85.0,249.1 86.5,247.5 88.0,245.4 89.5,246.4 91.0,247.6 92.5,245.3 94.0,243.5 95.5,246.0 97.0,242.5 98.5,239.7 100.0,239.7 101.5,238.3 103.0,228.5 104.5,220.4 106.0,216.8 107.5,215.0 109.0,213.3 110.5,209.4 112.0,210.9 113.5,209.8 115.0,208.4 116.5,209.8 118.0,216.7 119.5,206.4 121.0,205.1 122.5,204.7 124.0,205.7 125.5,202.5 127.0,200.1 128.5,201.5 130.0,202.1 131.5,201.6 133.0,198.9 134.5,201.5 136.0,198.6 137.5,197.6 139.0,199.2 140.5,201.4 142.0,201.0 143.5,210.7 145.0,207.4 146.5,210.3 148.0,209.5 149.5,215.9 151.0,216.2 152.5,219.9 154.0,226.4 155.5,228.5 157.0,232.5 158.5,234.2 160.0,235.7 161.5,234.9 163.0,237.2 164.5,235.9 166.0,239.6 167.5,241.1 169.0,238.8 170.5,241.3 172.0,242.3 173.5,244.8 175.0,240.7 176.5,244.0 178.0,244.2 179.5,244.7 181.0,245.8 182.5,248.7 184.0,247.2 185.5,248.3 187.0,249.7 188.5,250.6 190.0,251.6 191.5,250.6 193.0,250.6 194.5,254.4 196.0,252.0 197.5,251.0" fill="none" stroke="#00BC00" stroke-width="1.0" shape-rendering="crispEdges"/>
<polyline points="79.0,251.1 80.5,252.1 82.0,251.9 83.5,250.0 85.0,249.2 86.5,248.0 88.0,246.9 89.5,248.5 91.0,247.6 92.5,243.7 94.0,245.8 95.5,246.9 97.0,242.7 98.5,241.0 100.0,243.2 101.5,240.4 103.0,229.5 104.5,221.8 106.0,218.0 107.5,216.0 109.0,214.0 110.5,212.8 112.0,212.5 113.5,211.6 115.0,210.6 116.5,211.7 118.0,218.0 119.5,206.5 121.0,206.7 122.5,206.3 124.0,204.6 125.5,204.1 127.0,201.6 128.5,201.8 130.0,202.8 131.5,202.5 133.0,200.9 134.5,201.8 136.0,200.2 137.5,200.1 139.0,201.1 140.5,202.8 142.0,200.6 143.5,212.0 145.0,208.1 146.5,210.4 148.0,210.7 149.5,214.5 151.0,219.0 152.5,222.0 154.0,226.9 155.5,228.2 157.0,233.8 158.5,234.8 160.0,237.5 161.5,236.3 163.0,235.5 164.5,239.4 166.0,240.1 167.5,241.1 169.0,240.1 170.5,242.6 172.0,242.4 173.5,242.9 175.0,241.3 176.5,245.2 178.0,245.7 179.5,245.1 181.0,246.1 182.5,248.9 184.0,248.4 185.5,248.7 187.0,250.5 188.5,252.6 190.0,252.8 191.5,251.0 193.0,251.3 194.5,253.1 196.0,253.4 197.5,253.8" fill="none" stroke="#00BC00" stroke-width="1.0" shape-rendering="crispEdges"/>
<path d="M79.0,254.2 L81.0,254.2 L83.0,254.0 L85.0,253.6 L87.0,254.3 L89.0,253.9 L91.0,254.4 L93.0,253.3 L95.0,253.2 L97.0,253.1 L99.0,252.3 L101.0,251.6 L103.0,251.3 L105.0,251.2 L107.0,250.9 L109.0,250.4 L111.0,250.4 L113.0,250.0 L115.0,249.4 L117.0,248.9 L119.0,248.4 L121.0,248.2 L123.0,247.9 L125.0,247.2 L127.0,247.0 L129.0,246.3 L131.0,245.6 L133.0,245.3 L135.0,245.5 L137.0,245.0 L139.0,244.9 L141.0,244.2 L143.0,244.4 L145.0,244.4 L147.0,244.3 L149.0,243.7 L151.0,243.8 L153.0,243.8 L155.0,243.4 L157.0,243.8 L159.0,243.9 L161.0,243.6 L163.0,244.5 L165.0,244.0 L167.0,244.2 L169.0,244.3 L171.0,244.4 L173.0,244.8 L175.0,244.9 L177.0,245.5 L179.0,245.5 L181.0,245.7 L183.0,245.8 L185.0,245.7 L187.0,246.4 L189.0,246.7 L191.0,247.7 L193.0,247.9 L195.0,249.0 L197.0,249.2 L199.0,249.6 L201.0,249.8 L203.0,250.2 L205.0,250.7 L207.0,251.2 L209.0,251.1 L211.0,251.4 L213.0,252.0 L215.0,251.1 L217.0,251.0 L219.0,250.8 L221.0,250.6 L223.0,251.0 L225.0,250.2 L227.0,249.9 L229.0,250.0 L231.0,249.8 L233.0,248.4 L235.0,248.6 L237.0,248.3 L239.0,248.5 L241.0,248.9 L243.0,249.1 L245.0,249.9 L247.0,250.0 L249.0,250.3 L251.0,250.9 L253.0,251.2 L255.0,251.4 L257.0,251.7 L259.0,252.6 L261.0,252.6 L263.0,252.8 L263.0,254.0 L261.0,253.7 L259.0,253.4 L257.0,253.3 L255.0,253.4 L253.0,253.2 L251.0,253.2 L249.0,254.0 L247.0,253.4 L245.0,253.3 L243.0,253.5 L241.0,253.6 L239.0,253.2 L237.0,253.3 L235.0,252.9 L233.0,253.4 L231.0,253.6 L229.0,253.6 L227.0,253.9 L225.0,253.3 L223.0,253.5 L221.0,253.2 L219.0,253.6 L217.0,253.9 L215.0,253.9 L213.0,253.1 L211.0,253.1 L209.0,252.8 L207.0,252.6 L205.0,252.8 L203.0,253.2 L201.0,252.7 L199.0,253.0 L197.0,252.3 L195.0,252.4 L193.0,251.4 L191.0,251.9 L189.0,251.1 L187.0,250.8 L185.0,250.1 L183.0,249.3 L181.0,249.6 L179.0,249.5 L177.0,249.1 L175.0,248.4 L173.0,248.4 L171.0,248.9 L169.0,248.2 L167.0,248.2 L165.0,248.1 L163.0,248.1 L161.0,247.5 L159.0,247.5 L157.0,247.6 L155.0,248.0 L153.0,247.7 L151.0,247.9 L149.0,248.3 L147.0,247.7 L145.0,248.2 L143.0,247.7 L141.0,248.1 L139.0,248.3 L137.0,247.9 L135.0,247.9 L133.0,248.3 L131.0,248.9 L129.0,248.9 L127.0,249.4 L125.0,249.4 L123.0,249.0 L121.0,249.8 L119.0,250.1 L117.0,250.7 L115.0,251.1 L113.0,252.0 L111.0,252.6 L109.0,252.9 L107.0,252.9 L105.0,252.9 L103.0,253.1 L101.0,253.4 L99.0,254.1 L97.0,253.5 L95.0,254.0 L93.0,254.2 L91.0,254.0 L89.0,253.4 L87.0,254.1 L85.0,254.0 L83.0,253.7 L81.0,253.9 L79.0,253.7Z" fill="#000000" stroke="#000000" stroke-width="1" shape-rendering="crispEdges"/>
<path d="M79,253.5H263" stroke="#000" stroke-width="1" shape-rendering="crispEdges"/>
<path d="M225.5,253.5H247" stroke="#FF0000" stroke-width="1" shape-rendering="crispEdges"/>
<polyline points="204.0,250.4 205.5,250.4 207.0,248.2 208.5,243.6 210.0,238.6 211.5,232.5 213.0,230.2 214.5,226.9 216.0,227.9 217.5,230.0 219.0,230.7 220.5,227.8 222.0,222.1 223.5,214.9 225.0,212.5 226.5,210.6 228.0,208.4 229.5,206.3 231.0,204.2 232.5,202.6 234.0,199.8 235.5,197.6 237.0,201.5 238.5,205.3 240.0,208.8 241.5,198.9 243.0,179.3 244.5,171.1 246.0,177.3 247.5,199.6 249.0,212.1 250.5,224.2 252.0,228.2 253.5,234.7 255.0,239.3 256.5,241.7 258.0,245.6 259.5,248.1 261.0,251.0 262.5,250.2 264.0,251.5 265.5,252.1 267.0,251.8 268.5,251.4 270.0,252.3" fill="none" stroke="#0000FF" stroke-width="1.2" shape-rendering="crispEdges"/>
<polyline points="204.0,251.2 205.5,251.0 207.0,249.2 208.5,244.7 210.0,239.4 211.5,233.5 213.0,229.4 214.5,227.9 216.0,228.7 217.5,230.2 219.0,231.1 220.5,227.8 222.0,223.1 223.5,217.2 225.0,213.0 226.5,211.8 228.0,209.6 229.5,208.7 231.0,205.9 232.5,203.6 234.0,201.3 235.5,199.5 237.0,201.5 238.5,206.0 240.0,209.0 241.5,198.6 243.0,180.4 244.5,172.6 246.0,177.4 247.5,200.6 249.0,212.1 250.5,223.3 252.0,228.8 253.5,235.1 255.0,239.0 256.5,243.1 258.0,245.1 259.5,248.3 261.0,248.8 262.5,251.8 264.0,251.1 265.5,251.2 267.0,251.3 268.5,253.2 270.0,251.5" fill="none" stroke="#0000FF" stroke-width="1.2" shape-rendering="crispEdges"/>
<polyline points="204.0,251.4 205.5,250.6 207.0,247.6 208.5,244.0 210.0,239.9 211.5,233.7 213.0,231.5 214.5,228.5 216.0,229.1 217.5,230.6 219.0,231.6 220.5,230.1 222.0,222.9 223.5,216.7 225.0,213.7 226.5,211.8 228.0,211.7 229.5,207.9 231.0,206.0 232.5,204.5 234.0,202.4 235.5,202.1 237.0,201.5 238.5,206.4 240.0,210.2 241.5,198.0 243.0,180.8 244.5,172.8 246.0,179.4 247.5,199.6 249.0,212.0 250.5,223.8 252.0,230.3 253.5,235.0 255.0,238.2 256.5,243.7 258.0,245.9 259.5,249.1 261.0,249.7 262.5,250.9 264.0,251.6 265.5,253.0 267.0,253.1 268.5,251.4 270.0,251.6" fill="none" stroke="#0000FF" stroke-width="1.2" shape-rendering="crispEdges"/>
<polyline points="204.0,252.8 205.5,250.9 207.0,248.0 208.5,244.5 210.0,239.7 211.5,234.3 213.0,231.2 214.5,229.3 216.0,229.4 217.5,231.5 219.0,231.1 220.5,229.0 222.0,223.2 223.5,218.3 225.0,215.2 226.5,213.2 228.0,211.9 229.5,209.9 231.0,208.4 232.5,206.0 234.0,205.1 235.5,202.9 237.0,204.0 238.5,206.4 240.0,210.5 241.5,199.7 243.0,182.3 244.5,172.2 246.0,177.8 247.5,200.8 249.0,213.8 250.5,223.9 252.0,228.5 253.5,236.2 255.0,239.1 256.5,243.1 258.0,246.6 259.5,248.0 261.0,249.5 262.5,250.2 264.0,251.4 265.5,251.2 267.0,252.6 268.5,252.4 270.0,253.0" fill="none" stroke="#0000FF" stroke-width="1.2" shape-rendering="crispEdges"/>
<polyline points="204.0,252.0 205.5,251.0 207.0,249.4 208.5,244.5 210.0,240.6 211.5,235.1 213.0,231.4 214.5,230.2 216.0,230.3 217.5,231.4 219.0,232.7 220.5,230.8 222.0,223.6 223.5,218.0 225.0,214.3 226.5,214.0 228.0,212.1 229.5,209.0 231.0,208.8 232.5,207.1 234.0,204.5 235.5,203.0 237.0,204.3 238.5,207.9 240.0,209.1 241.5,199.7 243.0,184.7 244.5,174.0 246.0,180.3 247.5,200.7 249.0,212.8 250.5,223.6 252.0,230.0 253.5,235.0 255.0,239.9 256.5,244.0 258.0,247.3 259.5,247.6 261.0,249.4 262.5,250.4 264.0,253.0 265.5,252.8 267.0,252.9 268.5,251.9 270.0,251.7" fill="none" stroke="#0000FF" stroke-width="1.2" shape-rendering="crispEdges"/>
<polyline points="204.0,252.1 205.5,251.7 207.0,248.8 208.5,245.2 210.0,241.0 211.5,235.6 213.0,232.1 214.5,229.5 216.0,230.7 217.5,232.1 219.0,232.2 220.5,229.7 222.0,224.0 223.5,219.5 225.0,216.7 226.5,215.1 228.0,212.6 229.5,211.0 231.0,209.6 232.5,207.1 234.0,205.3 235.5,204.3 237.0,206.7 238.5,208.1 240.0,211.4 241.5,200.3 243.0,184.2 244.5,173.7 246.0,180.4 247.5,202.2 249.0,214.1 250.5,224.4 252.0,230.4 253.5,235.9 255.0,239.7 256.5,243.4 258.0,247.2 259.5,249.3 261.0,250.7 262.5,251.8 264.0,251.9 265.5,252.3 267.0,251.9 268.5,253.3 270.0,251.5" fill="none" stroke="#0000FF" stroke-width="1.2" shape-rendering="crispEdges"/>
<polyline points="204.0,252.1 205.5,253.6 207.0,249.5 208.5,244.6 210.0,240.9 211.5,236.9 213.0,233.3 214.5,232.2 216.0,231.5 217.5,232.2 219.0,234.9 220.5,230.4 222.0,224.8 223.5,219.5 225.0,217.8 226.5,216.2 228.0,214.7 229.5,212.5 231.0,209.5 232.5,209.2 234.0,207.1 235.5,205.6 237.0,205.7 238.5,208.2 240.0,210.1 241.5,200.9 243.0,184.4 244.5,175.4 246.0,181.8 247.5,200.7 249.0,213.7 250.5,223.5 252.0,230.8 253.5,234.4 255.0,239.9 256.5,242.4 258.0,246.7 259.5,249.8 261.0,250.1 262.5,252.0 264.0,252.0 265.5,254.0 267.0,253.4 268.5,253.6 270.0,251.9" fill="none" stroke="#0000FF" stroke-width="1.2" shape-rendering="crispEdges"/>
<polyline points="204.0,251.7 205.5,252.9 207.0,249.8 208.5,245.5 210.0,241.5 211.5,235.6 213.0,234.6 214.5,232.5 216.0,232.4 217.5,232.3 219.0,233.4 220.5,230.3 222.0,226.4 223.5,221.5 225.0,219.1 226.5,217.1 228.0,215.5 229.5,211.4 231.0,212.1 232.5,209.7 234.0,208.6 235.5,206.9 237.0,206.7 238.5,208.8 240.0,211.2 241.5,202.5 243.0,186.0 244.5,175.4 246.0,183.6 247.5,201.1 249.0,215.9 250.5,224.4 252.0,229.8 253.5,237.1 255.0,241.5 256.5,242.8 258.0,248.3 259.5,249.2 261.0,251.8 262.5,251.8 264.0,251.7 265.5,253.2 267.0,253.5 268.5,254.0 270.0,254.0" fill="none" stroke="#0000FF" stroke-width="1.2" shape-rendering="crispEdges"/>
<polyline points="204.0,253.1 205.5,252.2 207.0,249.9 208.5,245.7 210.0,241.0 211.5,236.9 213.0,233.0 214.5,233.4 216.0,232.6 217.5,234.9 219.0,233.9 220.5,230.9 222.0,226.8 223.5,220.7 225.0,218.9 226.5,216.3 228.0,217.0 229.5,214.7 231.0,211.6 232.5,210.9 234.0,210.3 235.5,208.7 237.0,208.9 238.5,209.2 240.0,210.6 241.5,202.1 243.0,188.1 244.5,176.2 246.0,182.6 247.5,202.9 249.0,214.0 250.5,225.4 252.0,230.8 253.5,237.2 255.0,241.7 256.5,244.5 258.0,248.0 259.5,249.0 261.0,250.4 262.5,252.7 264.0,254.0 265.5,254.0 267.0,254.0 268.5,253.3 270.0,253.2" fill="none" stroke="#0000FF" stroke-width="1.2" shape-rendering="crispEdges"/>
<polyline points="204.0,253.6 205.5,252.6 207.0,250.5 208.5,245.5 210.0,242.6 211.5,236.8 213.0,235.8 214.5,233.0 216.0,234.0 217.5,232.9 219.0,234.3 220.5,230.5 222.0,226.7 223.5,223.2 225.0,219.6 226.5,218.6 228.0,216.5 229.5,213.5 231.0,213.6 232.5,212.3 234.0,210.1 235.5,210.1 237.0,208.9 238.5,209.7 240.0,211.2 241.5,202.1 243.0,190.1 244.5,176.4 246.0,184.8 247.5,203.1 249.0,213.6 250.5,223.7 252.0,231.3 253.5,236.5 255.0,241.1 256.5,245.0 258.0,247.4 259.5,249.1 261.0,249.2 262.5,252.6 264.0,252.5 265.5,253.4 267.0,253.3 268.5,252.2 270.0,254.0" fill="none" stroke="#0000FF" stroke-width="1.2" shape-rendering="crispEdges"/>
<polyline points="204.0,253.8 205.5,253.5 207.0,249.9 208.5,246.2 210.0,241.9 211.5,237.8 213.0,235.3 214.5,235.0 216.0,234.0 217.5,234.3 219.0,233.7 220.5,232.9 222.0,227.7 223.5,221.3 225.0,220.6 226.5,219.4 228.0,218.4 229.5,215.9 231.0,214.2 232.5,212.6 234.0,212.5 235.5,210.7 237.0,210.0 238.5,210.5 240.0,211.8 241.5,202.8 243.0,188.3 244.5,178.6 246.0,184.6 247.5,202.9 249.0,215.5 250.5,225.9 252.0,231.8 253.5,236.7 255.0,240.9 256.5,243.6 258.0,248.6 259.5,250.4 261.0,252.0 262.5,252.4 264.0,251.9 265.5,254.0 267.0,253.4 268.5,253.4 270.0,253.4" fill="none" stroke="#0000FF" stroke-width="1.2" shape-rendering="crispEdges"/>
<polyline points="204.0,253.8 205.5,253.5 207.0,249.9 208.5,247.3 210.0,242.3 211.5,238.3 213.0,237.2 214.5,236.0 216.0,234.2 217.5,233.1 219.0,234.5 220.5,232.8 222.0,228.2 223.5,223.1 225.0,221.4 226.5,219.4 228.0,218.8 229.5,217.5 231.0,215.9 232.5,213.6 234.0,213.3 235.5,212.6 237.0,211.0 238.5,211.6 240.0,212.2 241.5,203.8 243.0,191.0 244.5,178.6 246.0,186.0 247.5,201.8 249.0,215.5 250.5,225.9 252.0,231.8 253.5,237.8 255.0,241.7 256.5,244.7 258.0,247.7 259.5,250.2 261.0,252.0 262.5,252.3 264.0,254.0 265.5,252.8 267.0,252.3 268.5,252.8 270.0,252.3" fill="none" stroke="#0000FF" stroke-width="1.2" shape-rendering="crispEdges"/>
<path d="M262,252.5H338" stroke="#0000FF" stroke-width="2" shape-rendering="crispEdges"/>
<path d="M79.0,533.4 L80.5,533.4 L82.0,532.0 L83.5,531.5 L85.0,533.0 L86.5,532.6 L88.0,529.8 L89.5,530.6 L91.0,527.6 L92.5,528.9 L94.0,528.0 L95.5,525.1 L97.0,523.4 L98.5,522.7 L100.0,517.7 L101.5,515.4 L103.0,514.0 L104.5,510.8 L106.0,507.8 L107.5,503.5 L109.0,501.0 L110.5,496.6 L112.0,494.2 L113.5,492.7 L115.0,487.7 L116.5,486.2 L118.0,485.0 L119.5,483.0 L121.0,476.9 L122.5,470.0 L124.0,468.1 L125.5,461.9 L127.0,458.2 L128.5,456.7 L130.0,453.9 L131.5,454.5 L133.0,449.1 L134.5,451.4 L136.0,445.7 L137.5,446.9 L139.0,444.8 L140.5,444.1 L142.0,444.1 L143.5,443.9 L145.0,443.3 L146.5,441.7 L148.0,442.2 L149.5,438.9 L151.0,442.0 L152.5,440.5 L154.0,440.5 L155.5,439.4 L157.0,436.8 L158.5,437.9 L160.0,438.2 L161.5,436.7 L163.0,435.3 L164.5,433.4 L166.0,432.9 L167.5,435.5 L169.0,436.4 L170.5,437.8 L172.0,439.0 L173.5,435.3 L175.0,435.4 L176.5,437.7 L178.0,436.0 L179.5,438.1 L181.0,439.7 L182.5,440.3 L184.0,439.3 L185.5,439.3 L187.0,440.7 L188.5,440.5 L190.0,443.5 L191.5,448.7 L193.0,450.6 L194.5,451.5 L196.0,449.9 L197.5,450.1 L199.0,451.9 L200.5,457.4 L202.0,460.9 L203.5,467.6 L205.0,472.5 L206.5,477.4 L208.0,480.0 L209.5,483.2 L211.0,489.2 L212.5,491.2 L214.0,494.6 L215.5,498.6 L217.0,498.6 L217.0,510.0 L215.5,506.7 L214.0,503.6 L212.5,499.1 L211.0,497.4 L209.5,491.9 L208.0,489.4 L206.5,486.2 L205.0,481.6 L203.5,480.5 L202.0,479.7 L200.5,479.2 L199.0,478.3 L197.5,478.3 L196.0,477.7 L194.5,476.5 L193.0,474.7 L191.5,470.3 L190.0,484.6 L188.5,469.6 L187.0,468.8 L185.5,470.4 L184.0,468.5 L182.5,469.0 L181.0,468.5 L179.5,467.9 L178.0,467.1 L176.5,468.6 L175.0,466.9 L173.5,467.6 L172.0,467.5 L170.5,467.3 L169.0,467.6 L167.5,467.6 L166.0,467.8 L164.5,472.4 L163.0,467.9 L161.5,469.1 L160.0,469.5 L158.5,478.0 L157.0,468.8 L155.5,469.3 L154.0,469.1 L152.5,472.4 L151.0,470.1 L149.5,472.3 L148.0,471.2 L146.5,470.7 L145.0,480.0 L143.5,484.0 L142.0,472.7 L140.5,473.6 L139.0,474.9 L137.5,478.5 L136.0,477.9 L134.5,478.7 L133.0,478.8 L131.5,480.4 L130.0,481.7 L128.5,482.7 L127.0,484.1 L125.5,485.6 L124.0,486.8 L122.5,490.7 L121.0,495.1 L119.5,498.9 L118.0,508.5 L116.5,505.8 L115.0,506.1 L113.5,502.1 L112.0,505.4 L110.5,507.1 L109.0,509.7 L107.5,512.9 L106.0,513.8 L104.5,516.3 L103.0,521.7 L101.5,523.8 L100.0,527.2 L98.5,528.3 L97.0,530.5 L95.5,533.4 L94.0,528.8 L92.5,531.1 L91.0,531.1 L89.5,537.3 L88.0,531.7 L86.5,532.5 L85.0,532.8 L83.5,533.0 L82.0,534.2 L80.5,535.0 L79.0,537.8Z" fill="#BFBF00" stroke="#BFBF00" stroke-width="1" shape-rendering="crispEdges"/>
<path d="M121,480h1v1h-1ZM122,477h1v1h-1ZM129,460h1v1h-1ZM131,459h1v1h-1ZM135,454h1v1h-1ZM138,450h1v1h-1ZM143,447h1v1h-1ZM145,446h1v1h-1ZM151,444h1v1h-1ZM152,444h1v1h-1ZM154,443h1v1h-1ZM159,441h1v1h-1ZM160,440h1v1h-1ZM162,439h1v1h-1ZM163,439h1v1h-1ZM171,442h1v1h-1ZM172,441h1v1h-1ZM175,439h1v1h-1ZM179,442h1v1h-1ZM188,444h1v1h-1ZM190,446h1v1h-1ZM192,454h1v1h-1ZM193,454h1v1h-1ZM198,455h1v1h-1ZM202,465h1v1h-1ZM203,468h1v1h-1ZM209,486h1v1h-1ZM210,488h1v1h-1ZM213,495h1v1h-1ZM214,498h1v1h-1ZM125,469h1v1h-1ZM127,464h1v1h-1ZM129,463h1v1h-1ZM130,463h1v1h-1ZM131,462h1v1h-1ZM132,462h1v1h-1ZM134,459h1v1h-1ZM140,451h1v1h-1ZM145,449h1v1h-1ZM147,448h1v1h-1ZM155,446h1v1h-1ZM160,444h1v1h-1ZM166,441h1v1h-1ZM169,443h1v1h-1ZM175,442h1v1h-1ZM176,443h1v1h-1ZM178,444h1v1h-1ZM179,445h1v1h-1ZM182,446h1v1h-1ZM185,446h1v1h-1ZM189,447h1v1h-1ZM190,450h1v1h-1ZM192,457h1v1h-1ZM197,458h1v1h-1ZM199,458h1v1h-1ZM200,460h1v1h-1ZM201,464h1v1h-1ZM203,471h1v1h-1ZM129,466h1v1h-1ZM132,465h1v1h-1ZM136,459h1v1h-1ZM139,455h1v1h-1ZM141,453h1v1h-1ZM146,451h1v1h-1ZM155,449h1v1h-1ZM158,448h1v1h-1ZM168,445h1v1h-1ZM169,446h1v1h-1ZM183,449h1v1h-1Z" fill="#fff" shape-rendering="crispEdges"/>
<path d="M199.0,530.7 L200.5,531.6 L202.0,533.7 L203.5,533.2 L205.0,533.0 L206.5,532.5 L208.0,531.4 L209.5,531.9 L211.0,528.2 L212.5,530.7 L214.0,528.7 L215.5,528.1 L217.0,526.0 L218.5,521.7 L220.0,520.9 L221.5,516.5 L223.0,511.7 L224.5,508.3 L226.0,505.0 L227.5,497.2 L229.0,489.7 L230.5,482.7 L232.0,475.5 L233.5,468.8 L235.0,464.1 L236.5,458.6 L238.0,451.9 L239.5,451.0 L241.0,452.6 L242.5,453.9 L244.0,455.3 L245.5,460.3 L247.0,461.5 L248.5,462.2 L250.0,461.4 L251.5,457.5 L253.0,458.1 L254.5,455.7 L256.0,462.5 L257.5,469.4 L259.0,484.9 L260.5,481.6 L262.0,478.6 L263.5,475.2 L265.0,473.9 L266.5,472.8 L268.0,475.1 L269.5,474.3 L271.0,481.8 L272.5,483.9 L274.0,483.5 L275.5,483.6 L277.0,484.3 L278.5,486.0 L280.0,486.4 L281.5,486.5 L283.0,488.1 L284.5,487.3 L286.0,490.5 L287.5,490.7 L289.0,493.8 L290.5,497.6 L292.0,499.9 L293.5,500.4 L295.0,502.1 L296.5,500.2 L298.0,499.4 L299.5,502.7 L301.0,502.5 L302.5,503.2 L304.0,506.0 L305.5,505.8 L307.0,508.3 L308.5,510.2 L310.0,510.2 L311.5,510.7 L313.0,514.3 L314.5,515.0 L316.0,515.9 L317.5,519.0 L319.0,520.1 L320.5,522.9 L322.0,523.9 L323.5,521.9 L325.0,523.8 L326.5,527.0 L328.0,527.4 L329.5,530.2 L331.0,533.5 L332.5,535.1 L334.0,532.9 L335.5,535.1 L337.0,533.1 L337.0,534.6 L335.5,534.5 L334.0,533.8 L332.5,535.3 L331.0,533.7 L329.5,535.2 L328.0,532.6 L326.5,533.4 L325.0,529.9 L323.5,528.9 L322.0,528.7 L320.5,527.0 L319.0,525.2 L317.5,524.7 L316.0,523.6 L314.5,522.5 L313.0,521.9 L311.5,519.7 L310.0,522.1 L308.5,517.3 L307.0,516.5 L305.5,515.2 L304.0,513.6 L302.5,513.5 L301.0,511.5 L299.5,512.6 L298.0,510.6 L296.5,509.2 L295.0,508.3 L293.5,507.3 L292.0,506.6 L290.5,505.1 L289.0,508.0 L287.5,505.2 L286.0,500.9 L284.5,500.6 L283.0,500.6 L281.5,500.4 L280.0,501.0 L278.5,501.8 L277.0,501.4 L275.5,501.6 L274.0,502.3 L272.5,527.3 L271.0,496.0 L269.5,495.3 L268.0,493.2 L266.5,492.8 L265.0,492.2 L263.5,491.1 L262.0,491.7 L260.5,490.2 L259.0,489.7 L257.5,504.0 L256.0,487.7 L254.5,487.2 L253.0,485.7 L251.5,487.4 L250.0,483.1 L248.5,482.4 L247.0,497.0 L245.5,480.2 L244.0,479.9 L242.5,477.3 L241.0,476.2 L239.5,478.2 L238.0,483.0 L236.5,481.0 L235.0,484.1 L233.5,489.5 L232.0,493.5 L230.5,498.6 L229.0,502.4 L227.5,506.8 L226.0,509.7 L224.5,512.6 L223.0,515.9 L221.5,520.0 L220.0,523.2 L218.5,525.9 L217.0,527.4 L215.5,529.3 L214.0,531.9 L212.5,530.9 L211.0,532.2 L209.5,531.8 L208.0,531.7 L206.5,533.3 L205.0,532.6 L203.5,533.1 L202.0,534.1 L200.5,534.2 L199.0,534.0Z" fill="#BFBF00" stroke="#BFBF00" stroke-width="1" shape-rendering="crispEdges"/>
<path d="M235,468h1v1h-1ZM236,464h1v1h-1ZM237,460h1v1h-1ZM245,461h1v1h-1ZM248,465h1v1h-1ZM250,463h1v1h-1ZM254,461h1v1h-1ZM261,484h1v1h-1ZM267,477h1v1h-1ZM268,479h1v1h-1ZM269,481h1v1h-1ZM274,487h1v1h-1ZM284,492h1v1h-1ZM291,501h1v1h-1ZM301,506h1v1h-1ZM311,515h1v1h-1ZM312,516h1v1h-1ZM240,457h1v1h-1ZM244,463h1v1h-1ZM246,466h1v1h-1ZM249,468h1v1h-1ZM254,464h1v1h-1ZM264,482h1v1h-1ZM268,482h1v1h-1ZM275,490h1v1h-1ZM277,490h1v1h-1ZM280,492h1v1h-1ZM284,495h1v1h-1ZM288,498h1v1h-1Z" fill="#fff" shape-rendering="crispEdges"/>
<path d="M79,536.5H338" stroke="#BFBF00" stroke-width="1" shape-rendering="crispEdges"/>
<polyline points="448.0,535.7 449.0,535.3 450.0,535.7 451.0,535.2 452.0,535.7 453.0,535.5 454.0,535.1 455.0,535.2 456.0,535.0 457.0,534.6 458.0,534.8 459.0,534.3 460.0,534.4 461.0,533.6 462.0,533.6 463.0,533.4 464.0,532.7 465.0,532.5 466.0,532.1 467.0,532.2 468.0,531.3 469.0,531.4 470.0,531.4 471.0,530.7 472.0,529.6 473.0,529.7 474.0,529.5 475.0,528.4 476.0,528.3 477.0,527.5 478.0,526.8 479.0,526.0 480.0,525.3 481.0,524.8 482.0,524.2 483.0,523.7 484.0,523.0 485.0,522.0 486.0,521.5 487.0,520.9 488.0,519.4 489.0,518.7 490.0,517.8 491.0,517.1 492.0,516.1 493.0,515.2 494.0,514.1 495.0,513.5 496.0,512.1 497.0,510.2 498.0,509.6 499.0,508.2 500.0,508.2 501.0,506.6 502.0,505.7 503.0,504.9 504.0,505.0 505.0,505.0 506.0,504.5 507.0,502.1 508.0,498.2 509.0,496.1 510.0,494.0 511.0,493.5 512.0,491.7 513.0,490.6 514.0,489.0 515.0,488.6 516.0,487.5 517.0,486.1 518.0,489.7 519.0,493.1 520.0,496.9 521.0,492.2 522.0,488.3 523.0,484.4 524.0,480.2 525.0,472.0 526.0,470.8 527.0,468.5 528.0,466.4 529.0,462.7 530.0,459.6 531.0,456.6 532.0,453.4 533.0,449.9 534.0,447.2 535.0,443.8 536.0,439.2 537.0,435.3 538.0,432.9 539.0,431.2 540.0,431.1 541.0,425.9 542.0,421.0 543.0,416.6 544.0,413.9 545.0,411.2 546.0,408.7 547.0,405.8 548.0,402.9 549.0,400.4 550.0,397.3 551.0,393.6 552.0,390.9 553.0,389.6 554.0,386.9 555.0,385.4 556.0,383.7 557.0,382.2 558.0,381.6 559.0,381.0 560.0,381.2 561.0,382.0 562.0,383.0 563.0,384.3 564.0,385.9 565.0,388.5 566.0,391.0 567.0,393.2 568.0,397.1 569.0,398.9 570.0,402.7 571.0,406.3 572.0,409.0 573.0,413.8 574.0,418.1 575.0,421.4 576.0,430.1 577.0,437.9" fill="none" stroke="#BFBF00" stroke-width="1.2" stroke-linejoin="round" shape-rendering="crispEdges"/>
<polyline points="567.0,534.9 568.0,534.6 569.0,534.4 570.0,534.6 571.0,533.9 572.0,534.0 573.0,533.4 574.0,532.3 575.0,532.6 576.0,532.1 577.0,530.6 578.0,531.2 579.0,530.0 580.0,529.5 581.0,527.2 582.0,526.0 583.0,524.5 584.0,522.5 585.0,521.0 586.0,518.4 587.0,518.3 588.0,515.5 589.0,513.0 590.0,511.6 591.0,509.7 592.0,508.3 593.0,505.7 594.0,504.2 595.0,501.4 596.0,500.1 597.0,496.6 598.0,494.4 599.0,490.3 600.0,488.3 601.0,486.4 602.0,485.9 603.0,484.7 604.0,482.5 605.0,481.5 606.0,480.3 607.0,478.5 608.0,476.0 609.0,473.0 610.0,470.0 611.0,467.8 612.0,465.2 613.0,461.5 614.0,459.0 615.0,456.6 616.0,454.0 617.0,451.2 618.0,449.4 619.0,446.9 620.0,444.4 621.0,441.5 622.0,439.9 623.0,437.7 624.0,435.7 625.0,434.6 626.0,434.1 627.0,432.1 628.0,431.5 629.0,430.2 630.0,428.7 631.0,427.8 632.0,426.1 633.0,425.4 634.0,423.0 635.0,422.9 636.0,420.6 637.0,418.5 638.0,416.0 639.0,414.4 640.0,412.5 641.0,410.4 642.0,409.0 643.0,407.2 644.0,406.8 645.0,405.4 646.0,402.7 647.0,399.7 648.0,397.4 649.0,394.7 650.0,392.2 651.0,392.9 652.0,392.0 653.0,390.5 654.0,389.7 655.0,389.2 656.0,388.9 657.0,389.1 658.0,389.6 659.0,391.1 660.0,390.8 661.0,392.6 662.0,393.9 663.0,394.3 664.0,395.3 665.0,396.0 666.0,397.4 667.0,398.6 668.0,399.7 669.0,401.4 670.0,403.0 671.0,405.1 672.0,406.8 673.0,407.7 674.0,408.7 675.0,410.2 676.0,411.9 677.0,414.2 678.0,415.4 679.0,416.8 680.0,418.1 681.0,420.5 682.0,421.8 683.0,423.3 684.0,425.0 685.0,427.3 686.0,428.1 687.0,430.8 688.0,432.9 689.0,434.7 690.0,437.5 691.0,439.4 692.0,441.4 693.0,444.0 694.0,446.1 695.0,449.1 696.0,451.2 697.0,453.8" fill="none" stroke="#BFBF00" stroke-width="1.2" stroke-linejoin="round" shape-rendering="crispEdges"/>
<polyline points="530.0,535.5 531.0,534.6 532.0,535.2 533.0,534.8 534.0,535.1 535.0,534.9 536.0,535.0 537.0,535.2 538.0,534.5 539.0,534.9 540.0,534.8 541.0,534.3 542.0,534.8 543.0,534.6 544.0,534.5 545.0,534.4 546.0,535.1 547.0,534.3 548.0,533.7 549.0,533.5 550.0,533.3 551.0,533.0 552.0,532.7 553.0,532.1 554.0,532.1 555.0,531.1 556.0,530.0 557.0,529.3 558.0,528.5 559.0,527.8 560.0,526.7 561.0,525.4 562.0,524.4 563.0,523.4 564.0,522.7 565.0,519.6 566.0,515.2 567.0,510.6 568.0,505.6 569.0,501.2 570.0,495.8 571.0,490.3 572.0,485.1 573.0,479.7 574.0,476.4 575.0,473.7 576.0,471.3 577.0,469.2" fill="none" stroke="#FF0000" stroke-width="1.2" stroke-linejoin="round" shape-rendering="crispEdges"/>
<polyline points="573.0,534.5 574.0,534.5 575.0,534.3 576.0,533.8 577.0,533.6 578.0,533.2 579.0,533.0 580.0,532.8 581.0,531.3 582.0,530.3 583.0,529.1 584.0,527.9 585.0,526.9 586.0,525.6 587.0,524.3 588.0,521.8 589.0,519.1 590.0,516.4 591.0,513.2 592.0,511.0 593.0,505.9 594.0,501.3 595.0,497.0 596.0,491.8 597.0,483.3 598.0,474.3 599.0,465.8 600.0,458.5 601.0,451.5 602.0,445.0 603.0,439.3 604.0,433.3 605.0,426.8 606.0,421.9 607.0,417.3 608.0,412.5 609.0,407.9 610.0,405.7 611.0,404.2 612.0,402.4 613.0,401.1 614.0,401.9 615.0,403.1 616.0,404.6 617.0,406.6 618.0,410.7 619.0,415.4 620.0,420.8 621.0,426.5 622.0,432.0 623.0,438.1 624.0,444.1 625.0,450.3 626.0,455.2 627.0,460.6 628.0,466.1 629.0,471.9 630.0,475.8 631.0,479.0 632.0,483.1 633.0,486.7 634.0,490.1 635.0,493.7 636.0,497.4 637.0,500.1 638.0,502.4 639.0,505.0 640.0,507.4 641.0,509.9 642.0,511.6 643.0,513.3 644.0,514.6 645.0,516.1 646.0,517.8 647.0,519.0 648.0,519.9 649.0,520.2 650.0,521.5 651.0,522.0 652.0,522.8 653.0,523.6 654.0,524.6 655.0,525.1 656.0,525.4 657.0,525.9 658.0,526.7 659.0,527.1 660.0,528.1 661.0,527.8 662.0,528.1 663.0,528.8 664.0,529.2 665.0,529.5 666.0,530.0 667.0,530.6 668.0,530.4 669.0,530.6 670.0,530.6 671.0,531.2 672.0,531.6 673.0,531.6 674.0,532.1 675.0,532.1 676.0,532.6 677.0,532.5 678.0,532.4 679.0,532.6 680.0,532.5 681.0,532.6 682.0,533.1 683.0,533.4 684.0,533.7 685.0,533.5 686.0,533.6 687.0,533.5 688.0,534.0 689.0,534.0 690.0,533.9 691.0,534.2 692.0,534.3 693.0,533.9 694.0,534.5 695.0,534.5 696.0,534.5 697.0,534.6" fill="none" stroke="#FF0000" stroke-width="1.2" stroke-linejoin="round" shape-rendering="crispEdges"/>
<polyline points="439.0,535.8 440.0,535.7 441.0,535.6 442.0,535.5 443.0,535.4 444.0,535.4 445.0,535.3 446.0,535.2 447.0,535.1 448.0,535.0 449.0,534.8 450.0,534.6 451.0,534.4 452.0,534.2 453.0,534.0 454.0,533.3 455.0,532.4 456.0,531.5 457.0,530.5 458.0,529.7 459.0,529.5 460.0,529.2 461.0,529.0 462.0,528.8 463.0,528.6 464.0,527.8 465.0,526.8 466.0,525.8 467.0,524.5 468.0,521.0 469.0,517.2 470.0,512.6" fill="none" stroke="#0000FF" stroke-width="1.4" stroke-linejoin="round" shape-rendering="crispEdges"/>
<polyline points="470.0,513.3 471.0,508.6 472.0,504.1 473.0,496.8 474.0,489.0 475.0,481.6 476.0,472.9 477.0,464.9 478.0,454.4 479.0,445.5 480.0,435.1 481.0,424.7 482.0,418.8 483.0,414.0 484.0,409.3 485.0,405.0 486.0,400.8 487.0,399.2 488.0,396.3 489.0,393.9 490.0,392.4 491.0,390.7 492.0,389.9 493.0,388.5 494.0,386.7 495.0,389.5 496.0,390.7 497.0,393.4 498.0,394.4 499.0,397.4 500.0,404.3 501.0,410.4 502.0,416.4 503.0,422.1 504.0,429.6 505.0,435.6 506.0,442.7 507.0,444.1 508.0,445.8 509.0,448.0 510.0,451.1 511.0,455.1 512.0,458.8 513.0,461.6 514.0,466.1 515.0,471.0 516.0,475.6 517.0,480.6 518.0,485.1 519.0,493.1 520.0,500.1 521.0,503.6 522.0,502.2 523.0,501.7 524.0,501.7 525.0,503.5 526.0,504.7 527.0,506.3 528.0,507.3 529.0,509.4 530.0,509.5 531.0,511.3 532.0,513.1 533.0,513.6 534.0,515.7 535.0,516.2 536.0,517.9 537.0,518.8 538.0,520.2 539.0,521.3 540.0,522.0 541.0,522.7 542.0,524.4 543.0,524.4 544.0,524.9 545.0,526.3" fill="none" stroke="#0000FF" stroke-width="1.4" stroke-linejoin="round" shape-rendering="crispEdges"/>
<polyline points="545.0,527.6 548.0,528.8 551.0,530.0 554.0,531.2 557.0,532.2 560.0,532.8 563.0,533.5 566.0,533.9 569.0,533.9 572.0,533.9 575.0,534.0 578.0,534.0 581.0,534.0 584.0,534.0 587.0,534.0 590.0,534.0 593.0,534.0 596.0,534.0 599.0,534.8 602.0,535.0 605.0,535.1 608.0,535.1 611.0,535.1 614.0,535.2 617.0,535.2 620.0,535.2 623.0,535.3 626.0,535.3 629.0,535.4 632.0,535.4 635.0,535.4 638.0,535.5" fill="none" stroke="#0000FF" stroke-width="1.2" stroke-linejoin="round" shape-rendering="crispEdges"/>
<path d="M439,536.5H698M439,535.5H460" stroke="#0000FF" stroke-width="1" shape-rendering="crispEdges"/>
<path d="M60.5,48.5H338.5V258.5H60.5ZM61,240.5h5M338,240.5h-5M61,223.5h5M338,223.5h-5M61,205.5h5M338,205.5h-5M61,188.5h5M338,188.5h-5M61,170.5h5M338,170.5h-5M61,153.5h5M338,153.5h-5M61,135.5h5M338,135.5h-5M61,118.5h5M338,118.5h-5M61,100.5h5M338,100.5h-5M61,83.5h5M338,83.5h-5M61,65.5h5M338,65.5h-5M106.5,258v-5M106.5,49v5M152.5,258v-5M152.5,49v5M199.5,258v-5M199.5,49v5M245.5,258v-5M245.5,49v5M291.5,258v-5M291.5,49v5" fill="none" stroke="#000" stroke-width="1" shape-rendering="crispEdges"/>
<text x="59" y="263" text-anchor="end">0</text>
<text x="59" y="228" text-anchor="end">1</text>
<text x="59" y="193" text-anchor="end">2</text>
<text x="59" y="158" text-anchor="end">3</text>
<text x="59" y="123" text-anchor="end">4</text>
<text x="59" y="88" text-anchor="end">5</text>
<text x="59" y="53" text-anchor="end">6</text>
<text x="106.5" y="269" text-anchor="middle">400</text>
<text x="152.5" y="269" text-anchor="middle">500</text>
<text x="199.5" y="269" text-anchor="middle">600</text>
<text x="245.5" y="269" text-anchor="middle">700</text>
<text x="291.5" y="269" text-anchor="middle">800</text>
<text x="199" y="290" text-anchor="middle" textLength="165" lengthAdjust="spacing">Approximate Wavelength (nm)</text>
<text x="62.5" y="45">X</text>
<text x="73" y="45">10</text>
<text x="87.5" y="39" style="font-size:8px">4</text>
<path d="M60.5,330.5H338.5V540.5H60.5ZM61,522.5h5M338,522.5h-5M61,505.5h5M338,505.5h-5M61,487.5h5M338,487.5h-5M61,470.5h5M338,470.5h-5M61,452.5h5M338,452.5h-5M61,435.5h5M338,435.5h-5M61,417.5h5M338,417.5h-5M61,400.5h5M338,400.5h-5M61,382.5h5M338,382.5h-5M61,365.5h5M338,365.5h-5M61,347.5h5M338,347.5h-5M106.5,540v-5M106.5,331v5M152.5,540v-5M152.5,331v5M199.5,540v-5M199.5,331v5M245.5,540v-5M245.5,331v5M291.5,540v-5M291.5,331v5" fill="none" stroke="#000" stroke-width="1" shape-rendering="crispEdges"/>
<text x="59" y="545" text-anchor="end">0</text>
<text x="59" y="510" text-anchor="end">1</text>
<text x="59" y="475" text-anchor="end">2</text>
<text x="59" y="440" text-anchor="end">3</text>
<text x="59" y="405" text-anchor="end">4</text>
<text x="59" y="370" text-anchor="end">5</text>
<text x="59" y="335" text-anchor="end">6</text>
<text x="106.5" y="551" text-anchor="middle">400</text>
<text x="152.5" y="551" text-anchor="middle">500</text>
<text x="199.5" y="551" text-anchor="middle">600</text>
<text x="245.5" y="551" text-anchor="middle">700</text>
<text x="291.5" y="551" text-anchor="middle">800</text>
<text x="199" y="572" text-anchor="middle" textLength="165" lengthAdjust="spacing">Approximate Wavelength (nm)</text>
<text x="62.5" y="327">X</text>
<text x="73" y="327">10</text>
<text x="87.5" y="321" style="font-size:8px">4</text>
<path d="M420.5,330.5H698.5V540.5H420.5ZM421,522.5h5M698,522.5h-5M421,505.5h5M698,505.5h-5M421,487.5h5M698,487.5h-5M421,470.5h5M698,470.5h-5M421,452.5h5M698,452.5h-5M421,435.5h5M698,435.5h-5M421,417.5h5M698,417.5h-5M421,400.5h5M698,400.5h-5M421,382.5h5M698,382.5h-5M421,365.5h5M698,365.5h-5M421,347.5h5M698,347.5h-5M466.5,540v-5M466.5,331v5M512.5,540v-5M512.5,331v5M559.5,540v-5M559.5,331v5M605.5,540v-5M605.5,331v5M651.5,540v-5M651.5,331v5" fill="none" stroke="#000" stroke-width="1" shape-rendering="crispEdges"/>
<text x="419" y="545" text-anchor="end">0</text>
<text x="419" y="510" text-anchor="end">1</text>
<text x="419" y="475" text-anchor="end">2</text>
<text x="419" y="440" text-anchor="end">3</text>
<text x="419" y="405" text-anchor="end">4</text>
<text x="419" y="370" text-anchor="end">5</text>
<text x="419" y="335" text-anchor="end">6</text>
<text x="466.5" y="551" text-anchor="middle">400</text>
<text x="512.5" y="551" text-anchor="middle">500</text>
<text x="559.5" y="551" text-anchor="middle">600</text>
<text x="605.5" y="551" text-anchor="middle">700</text>
<text x="651.5" y="551" text-anchor="middle">800</text>
<text x="559" y="572" text-anchor="middle" textLength="165" lengthAdjust="spacing">Approximate Wavelength (nm)</text>
<text x="422.5" y="327">X</text>
<text x="433" y="327">10</text>
<text x="447.5" y="321" style="font-size:8px">4</text>
<text x="198.5" y="34" text-anchor="middle" textLength="96" lengthAdjust="spacing">1999122222.mby</text>
<text transform="translate(41 153) rotate(-90)" text-anchor="middle" textLength="50.5" lengthAdjust="spacing">Lu (ADU)</text>
<text transform="translate(41 435) rotate(-90)" text-anchor="middle" textLength="53.5" lengthAdjust="spacing">Es (ADU)</text>
<text transform="translate(401 436.5) rotate(-90)" text-anchor="middle" textLength="155" lengthAdjust="spacing">Internal Calib. Lamps (ADU)</text>
<text x="268" y="70" style="fill:#000000">Top</text>
<text x="268" y="88" style="fill:#FF0000">Mid</text>
<text x="268" y="105" style="fill:#00BC00">Bot</text>
<text x="268" y="123" style="fill:#0000FF">MOS</text>
<text x="447.5" y="352" style="fill:#0000FF">Blue LED</text>
<text x="447.5" y="370" style="fill:#FF0000">Red LED</text>
<text x="447.5" y="387" style="fill:#BFBF00" textLength="70" lengthAdjust="spacingAndGlyphs">Incand LAMP</text>
</svg>
</body></html>
